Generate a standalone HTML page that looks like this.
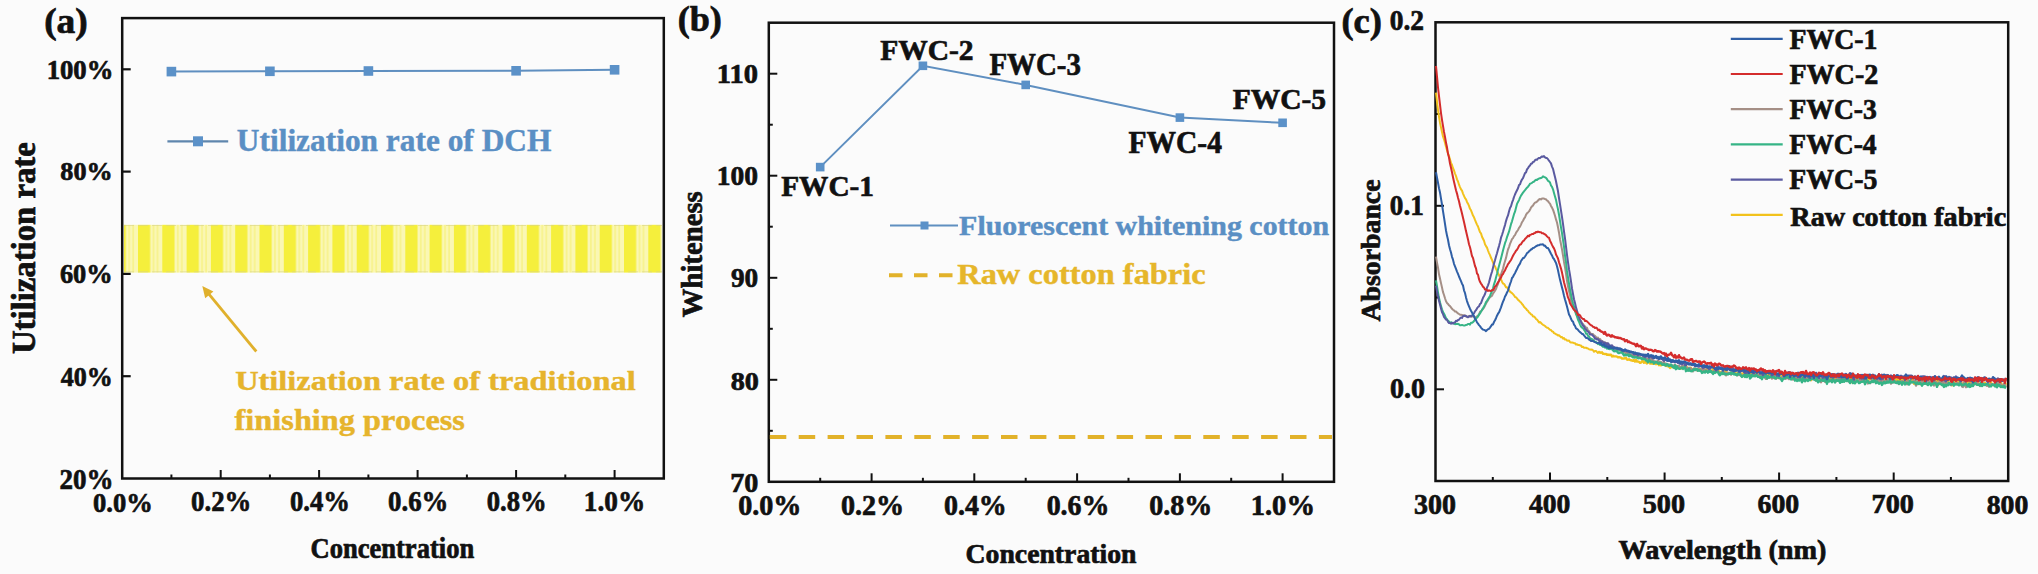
<!DOCTYPE html>
<html><head><meta charset="utf-8"><style>
html,body{margin:0;padding:0;background:#fbfbfb;width:2038px;height:574px;overflow:hidden}
svg{display:block}
</style></head><body>
<svg width="2038" height="574" viewBox="0 0 2038 574" font-family="Liberation Serif" font-weight="bold">
<rect x="0" y="0" width="2038" height="574" fill="#fbfbfb"/>
<defs><pattern id="stripes" patternUnits="userSpaceOnUse" x="138" y="0" width="24.3" height="10"><rect x="0" y="0" width="24.3" height="10" fill="#faf7b4"/><rect x="0" y="0" width="12.2" height="10" fill="#f5ef3c"/><rect x="15" y="0" width="1" height="10" fill="#f6f070"/><rect x="19" y="0" width="1" height="10" fill="#f6f070"/></pattern></defs>
<rect x="124" y="224.8" width="538" height="47.8" fill="url(#stripes)"/>
<line x1="124" y1="225.5" x2="662" y2="225.5" stroke="#d8d48a" stroke-width="1" stroke-dasharray="10 4" opacity="0.6"/>
<line x1="124" y1="271.8" x2="662" y2="271.8" stroke="#d8d48a" stroke-width="1" stroke-dasharray="10 4" opacity="0.6"/>
<rect x="122.2" y="18.1" width="541.6" height="460.4" fill="none" stroke="#111111" stroke-width="2.5"/>
<line x1="122.2" y1="376.2" x2="130.7" y2="376.2" stroke="#111111" stroke-width="2.2"/>
<line x1="122.2" y1="273.9" x2="130.7" y2="273.9" stroke="#111111" stroke-width="2.2"/>
<line x1="122.2" y1="171.6" x2="130.7" y2="171.6" stroke="#111111" stroke-width="2.2"/>
<line x1="122.2" y1="69.3" x2="130.7" y2="69.3" stroke="#111111" stroke-width="2.2"/>
<line x1="171.4" y1="478.5" x2="171.4" y2="474.5" stroke="#111111" stroke-width="2"/>
<line x1="220.7" y1="478.5" x2="220.7" y2="470.0" stroke="#111111" stroke-width="2"/>
<line x1="269.9" y1="478.5" x2="269.9" y2="474.5" stroke="#111111" stroke-width="2"/>
<line x1="319.1" y1="478.5" x2="319.1" y2="470.0" stroke="#111111" stroke-width="2"/>
<line x1="368.4" y1="478.5" x2="368.4" y2="474.5" stroke="#111111" stroke-width="2"/>
<line x1="417.6" y1="478.5" x2="417.6" y2="470.0" stroke="#111111" stroke-width="2"/>
<line x1="466.9" y1="478.5" x2="466.9" y2="474.5" stroke="#111111" stroke-width="2"/>
<line x1="516.1" y1="478.5" x2="516.1" y2="470.0" stroke="#111111" stroke-width="2"/>
<line x1="565.3" y1="478.5" x2="565.3" y2="474.5" stroke="#111111" stroke-width="2"/>
<line x1="614.6" y1="478.5" x2="614.6" y2="470.0" stroke="#111111" stroke-width="2"/>
<polyline points="171.4,71.6 269.9,71.3 368.4,71.0 516.1,70.8 614.6,69.8" fill="none" stroke="#5f8fc0" stroke-width="2"/>
<rect x="166.6" y="66.8" width="9.6" height="9.6" fill="#5b91c8"/>
<rect x="265.1" y="66.5" width="9.6" height="9.6" fill="#5b91c8"/>
<rect x="363.6" y="66.2" width="9.6" height="9.6" fill="#5b91c8"/>
<rect x="511.3" y="66.0" width="9.6" height="9.6" fill="#5b91c8"/>
<rect x="609.8" y="65.0" width="9.6" height="9.6" fill="#5b91c8"/>
<line x1="167.4" y1="141.3" x2="228.2" y2="141.3" stroke="#5f86ad" stroke-width="2.2"/>
<rect x="193" y="136.3" width="10" height="10" fill="#5b91c8"/>
<line x1="256.3" y1="351.5" x2="207.5" y2="292.3" stroke="#e0b02c" stroke-width="2.8"/>
<polygon points="202.3,286 205.2,298.2 213.4,291.5" fill="#e0b02c"/>
<rect x="768.8" y="22.7" width="565.2" height="459.1" fill="none" stroke="#111111" stroke-width="2.5"/>
<line x1="768.8" y1="430.8" x2="772.8" y2="430.8" stroke="#111111" stroke-width="2"/>
<line x1="768.8" y1="379.8" x2="777.3" y2="379.8" stroke="#111111" stroke-width="2"/>
<line x1="768.8" y1="328.8" x2="772.8" y2="328.8" stroke="#111111" stroke-width="2"/>
<line x1="768.8" y1="277.8" x2="777.3" y2="277.8" stroke="#111111" stroke-width="2"/>
<line x1="768.8" y1="226.7" x2="772.8" y2="226.7" stroke="#111111" stroke-width="2"/>
<line x1="768.8" y1="175.7" x2="777.3" y2="175.7" stroke="#111111" stroke-width="2"/>
<line x1="768.8" y1="124.7" x2="772.8" y2="124.7" stroke="#111111" stroke-width="2"/>
<line x1="768.8" y1="73.7" x2="777.3" y2="73.7" stroke="#111111" stroke-width="2"/>
<line x1="820.2" y1="481.8" x2="820.2" y2="477.8" stroke="#111111" stroke-width="2"/>
<line x1="871.6" y1="481.8" x2="871.6" y2="473.3" stroke="#111111" stroke-width="2"/>
<line x1="922.9" y1="481.8" x2="922.9" y2="477.8" stroke="#111111" stroke-width="2"/>
<line x1="974.3" y1="481.8" x2="974.3" y2="473.3" stroke="#111111" stroke-width="2"/>
<line x1="1025.7" y1="481.8" x2="1025.7" y2="477.8" stroke="#111111" stroke-width="2"/>
<line x1="1077.1" y1="481.8" x2="1077.1" y2="473.3" stroke="#111111" stroke-width="2"/>
<line x1="1128.5" y1="481.8" x2="1128.5" y2="477.8" stroke="#111111" stroke-width="2"/>
<line x1="1179.9" y1="481.8" x2="1179.9" y2="473.3" stroke="#111111" stroke-width="2"/>
<line x1="1231.2" y1="481.8" x2="1231.2" y2="477.8" stroke="#111111" stroke-width="2"/>
<line x1="1282.6" y1="481.8" x2="1282.6" y2="473.3" stroke="#111111" stroke-width="2"/>
<line x1="769.8" y1="437" x2="1332.0" y2="437" stroke="#e2b22a" stroke-width="4" stroke-dasharray="16.5 12.4"/>
<polyline points="820.2,167.1 922.9,65.8 1025.7,84.9 1179.9,117.6 1282.6,122.8" fill="none" stroke="#5f8fc0" stroke-width="2"/>
<rect x="815.9" y="162.8" width="8.6" height="8.6" fill="#5b91c8"/>
<rect x="918.6" y="61.5" width="8.6" height="8.6" fill="#5b91c8"/>
<rect x="1021.4" y="80.6" width="8.6" height="8.6" fill="#5b91c8"/>
<rect x="1175.6" y="113.3" width="8.6" height="8.6" fill="#5b91c8"/>
<rect x="1278.3" y="118.5" width="8.6" height="8.6" fill="#5b91c8"/>
<line x1="890" y1="225.5" x2="958" y2="225.5" stroke="#5f8fc0" stroke-width="2"/>
<rect x="920.5" y="221.5" width="8" height="8" fill="#5b91c8"/>
<line x1="889" y1="275.2" x2="955" y2="275.2" stroke="#e2b22a" stroke-width="4" stroke-dasharray="13.5 11.5"/>
<rect x="1435.5" y="22.3" width="572.7" height="458.7" fill="none" stroke="#111111" stroke-width="2.5"/>
<line x1="1435.5" y1="389.3" x2="1444.0" y2="389.3" stroke="#111111" stroke-width="2"/>
<line x1="1435.5" y1="297.5" x2="1439.5" y2="297.5" stroke="#111111" stroke-width="2"/>
<line x1="1435.5" y1="205.8" x2="1444.0" y2="205.8" stroke="#111111" stroke-width="2"/>
<line x1="1435.5" y1="114.0" x2="1439.5" y2="114.0" stroke="#111111" stroke-width="2"/>
<line x1="1492.8" y1="481.0" x2="1492.8" y2="477.0" stroke="#111111" stroke-width="2"/>
<line x1="1550.0" y1="481.0" x2="1550.0" y2="472.5" stroke="#111111" stroke-width="2"/>
<line x1="1607.3" y1="481.0" x2="1607.3" y2="477.0" stroke="#111111" stroke-width="2"/>
<line x1="1664.6" y1="481.0" x2="1664.6" y2="472.5" stroke="#111111" stroke-width="2"/>
<line x1="1721.8" y1="481.0" x2="1721.8" y2="477.0" stroke="#111111" stroke-width="2"/>
<line x1="1779.1" y1="481.0" x2="1779.1" y2="472.5" stroke="#111111" stroke-width="2"/>
<line x1="1836.4" y1="481.0" x2="1836.4" y2="477.0" stroke="#111111" stroke-width="2"/>
<line x1="1893.7" y1="481.0" x2="1893.7" y2="472.5" stroke="#111111" stroke-width="2"/>
<line x1="1950.9" y1="481.0" x2="1950.9" y2="477.0" stroke="#111111" stroke-width="2"/>
<polyline points="1436.0,92.7 1437.0,101.8 1438.0,109.8 1439.0,116.7 1440.0,122.7 1441.0,127.4 1442.0,132.1 1443.0,136.4 1444.0,139.3 1445.0,142.8 1446.0,146.8 1447.0,150.1 1448.0,153.3 1449.0,156.1 1450.0,159.6 1451.0,162.9 1452.0,165.0 1453.0,168.2 1454.0,170.5 1455.0,173.5 1456.0,176.0 1457.0,179.4 1458.0,181.5 1459.0,184.7 1460.0,187.1 1461.0,189.3 1462.0,190.7 1463.0,193.6 1464.0,195.9 1465.0,198.1 1466.0,199.4 1467.0,201.9 1468.0,203.7 1469.0,205.9 1470.0,208.8 1471.0,210.3 1472.0,212.9 1473.0,215.6 1474.0,217.3 1475.0,219.9 1476.0,222.3 1477.0,224.6 1478.0,226.5 1479.0,229.3 1480.0,232.2 1481.0,233.4 1482.0,236.7 1483.0,238.8 1484.0,240.8 1485.0,244.2 1486.0,246.1 1487.0,247.6 1488.0,250.5 1489.0,253.1 1490.0,255.1 1491.0,257.8 1492.0,259.9 1493.0,262.5 1494.0,265.1 1495.0,266.4 1496.0,268.9 1497.0,270.9 1498.0,273.3 1499.0,275.0 1500.0,277.3 1501.0,279.5 1502.0,281.7 1503.0,283.5 1504.0,283.9 1505.0,285.4 1506.0,287.2 1507.0,287.2 1508.0,288.9 1509.0,290.1 1510.0,291.6 1511.0,292.4 1512.0,293.1 1513.0,294.2 1514.0,295.3 1515.0,297.0 1516.0,297.3 1517.0,298.4 1518.0,299.8 1519.0,300.6 1520.0,301.7 1521.0,302.5 1522.0,304.0 1523.0,305.0 1524.0,306.8 1525.0,307.8 1526.0,308.7 1527.0,310.1 1528.0,310.8 1529.0,312.5 1530.0,313.1 1531.0,314.4 1532.0,314.7 1533.0,316.4 1534.0,316.5 1535.0,317.4 1536.0,319.0 1537.0,319.6 1538.0,320.9 1539.0,322.5 1540.0,322.1 1541.0,322.9 1542.0,324.0 1543.0,324.8 1544.0,325.3 1545.0,326.0 1546.0,327.0 1547.0,327.7 1548.0,327.8 1549.0,328.9 1550.0,329.7 1551.0,330.0 1552.0,331.3 1553.0,331.6 1554.0,333.1 1555.0,333.5 1556.0,334.2 1557.0,334.6 1558.0,335.4 1559.0,335.3 1560.0,336.2 1561.0,337.3 1562.0,336.9 1563.0,338.6 1564.0,338.0 1565.0,339.6 1566.0,339.4 1567.0,340.5 1568.0,340.7 1569.0,340.4 1570.0,342.1 1571.0,342.6 1572.0,342.4 1573.0,342.7 1574.0,343.2 1575.0,343.2 1576.0,344.6 1577.0,344.2 1578.0,344.9 1579.0,344.9 1580.0,345.4 1581.0,345.5 1582.0,347.1 1583.0,346.8 1584.0,347.7 1585.0,347.7 1586.0,347.7 1587.0,348.3 1588.0,348.5 1589.0,349.2 1590.0,349.4 1591.0,349.7 1592.0,349.5 1593.0,350.2 1594.0,351.8 1595.0,350.9 1596.0,351.0 1597.0,352.0 1598.0,352.9 1599.0,351.7 1600.0,352.6" fill="none" stroke="#f2c21c" stroke-width="2" stroke-linejoin="round"/>
<polyline points="1599.0,351.7 1600.0,352.6 1601.0,352.7 1602.0,352.3 1603.0,353.9 1604.0,353.8 1605.0,354.1 1606.0,353.9 1607.0,354.8 1608.0,354.5 1609.0,355.0 1610.0,354.7 1611.0,354.8 1612.0,356.5 1613.0,355.7 1614.0,356.4 1615.0,356.4 1616.0,356.4 1617.0,356.6 1618.0,357.4 1619.0,357.1 1620.0,357.4 1621.0,357.7 1622.0,358.6 1623.0,358.5 1624.0,358.6 1625.0,358.2 1626.0,357.9 1627.0,359.6 1628.0,359.8 1629.0,359.3 1630.0,359.9 1631.0,360.3 1632.0,360.5 1633.0,360.8 1634.0,360.1 1635.0,361.6 1636.0,360.0 1637.0,361.5 1638.0,361.5 1639.0,361.9 1640.0,362.8 1641.0,362.7 1642.0,361.2 1643.0,361.0 1644.0,362.8 1645.0,361.8 1646.0,362.7 1647.0,363.4 1648.0,361.9 1649.0,361.7 1650.0,363.5 1651.0,363.6 1652.0,363.5 1653.0,363.9 1654.0,363.4 1655.0,363.1 1656.0,364.2 1657.0,363.8 1658.0,363.5 1659.0,365.2 1660.0,364.9 1661.0,365.4 1662.0,364.6 1663.0,364.9 1664.0,364.8 1665.0,365.0 1666.0,366.0 1667.0,365.4 1668.0,366.4 1669.0,366.5 1670.0,367.9 1671.0,365.4 1672.0,367.3 1673.0,366.7 1674.0,366.9 1675.0,365.9 1676.0,366.8 1677.0,367.8 1678.0,367.3 1679.0,367.6 1680.0,367.4 1681.0,368.6 1682.0,367.8 1683.0,366.2 1684.0,367.5 1685.0,366.6 1686.0,365.7 1687.0,368.0 1688.0,369.6 1689.0,368.6 1690.0,367.8 1691.0,368.0 1692.0,369.9 1693.0,369.2 1694.0,369.2 1695.0,369.2 1696.0,369.4 1697.0,370.1 1698.0,370.0 1699.0,369.8 1700.0,368.8 1701.0,370.2 1702.0,369.3 1703.0,370.9 1704.0,369.0 1705.0,370.0 1706.0,370.2 1707.0,369.2 1708.0,371.9 1709.0,371.8 1710.0,370.2 1711.0,371.4 1712.0,371.1 1713.0,368.5 1714.0,371.2 1715.0,371.0 1716.0,371.2 1717.0,370.3 1718.0,371.1 1719.0,371.2 1720.0,372.6 1721.0,371.9 1722.0,371.6 1723.0,373.1 1724.0,371.3 1725.0,371.5 1726.0,370.3 1727.0,373.5 1728.0,373.1 1729.0,373.1 1730.0,372.9 1731.0,372.5 1732.0,372.7 1733.0,372.3 1734.0,372.4 1735.0,372.8 1736.0,374.3 1737.0,373.4 1738.0,372.9 1739.0,372.5 1740.0,372.5 1741.0,374.8 1742.0,373.8 1743.0,373.4 1744.0,373.1 1745.0,372.4 1746.0,373.5 1747.0,374.5 1748.0,373.3 1749.0,373.6 1750.0,373.6 1751.0,374.0 1752.0,372.4 1753.0,373.8 1754.0,373.3 1755.0,375.1 1756.0,373.5 1757.0,375.0 1758.0,376.0 1759.0,374.2 1760.0,374.0 1761.0,374.8 1762.0,374.7 1763.0,373.7 1764.0,375.3 1765.0,377.0 1766.0,374.7 1767.0,374.8 1768.0,374.0 1769.0,375.5 1770.0,373.9 1771.0,374.1 1772.0,376.8 1773.0,374.5 1774.0,376.7 1775.0,377.2 1776.0,375.9 1777.0,376.3 1778.0,377.9 1779.0,375.6 1780.0,375.2 1781.0,374.4 1782.0,376.0 1783.0,377.7 1784.0,377.2 1785.0,375.1 1786.0,375.3 1787.0,375.7 1788.0,376.7 1789.0,376.2 1790.0,376.7 1791.0,376.9 1792.0,376.2 1793.0,376.6 1794.0,376.9 1795.0,376.6 1796.0,377.4 1797.0,379.0 1798.0,377.6 1799.0,377.0 1800.0,375.0 1801.0,377.5 1802.0,374.8 1803.0,375.5 1804.0,378.2 1805.0,378.1 1806.0,377.1 1807.0,375.3 1808.0,377.0 1809.0,376.6 1810.0,378.3 1811.0,380.3 1812.0,377.9 1813.0,376.7 1814.0,376.3 1815.0,377.7 1816.0,377.6 1817.0,376.4 1818.0,378.0 1819.0,376.5 1820.0,379.3 1821.0,379.3 1822.0,379.3 1823.0,377.5 1824.0,378.7 1825.0,378.0 1826.0,377.7 1827.0,377.8 1828.0,376.7 1829.0,376.6 1830.0,379.3 1831.0,378.2 1832.0,378.7 1833.0,379.7 1834.0,376.5 1835.0,377.6 1836.0,378.8 1837.0,379.1 1838.0,378.2 1839.0,380.0 1840.0,379.0 1841.0,377.4 1842.0,377.7 1843.0,379.9 1844.0,379.5 1845.0,376.7 1846.0,380.6 1847.0,379.8 1848.0,380.7 1849.0,378.7 1850.0,378.8 1851.0,377.8 1852.0,382.3 1853.0,379.1 1854.0,381.2 1855.0,378.6 1856.0,379.6 1857.0,377.4 1858.0,379.0 1859.0,380.7 1860.0,378.0 1861.0,380.9 1862.0,380.0 1863.0,378.4 1864.0,379.1 1865.0,379.2 1866.0,379.7 1867.0,379.1 1868.0,378.8 1869.0,379.5 1870.0,378.7 1871.0,378.4 1872.0,379.9 1873.0,381.1 1874.0,378.2 1875.0,380.1 1876.0,379.3 1877.0,379.0 1878.0,381.2 1879.0,379.6 1880.0,382.1 1881.0,379.4 1882.0,380.8 1883.0,380.1 1884.0,379.5 1885.0,381.1 1886.0,380.3 1887.0,381.2 1888.0,380.5 1889.0,379.3 1890.0,380.5 1891.0,380.7 1892.0,381.8 1893.0,379.6 1894.0,380.7 1895.0,378.7 1896.0,381.6 1897.0,379.6 1898.0,378.8 1899.0,380.9 1900.0,382.3 1901.0,379.2 1902.0,379.8 1903.0,380.2 1904.0,379.8 1905.0,381.6 1906.0,380.3 1907.0,380.4 1908.0,382.0 1909.0,380.4 1910.0,381.9 1911.0,380.3 1912.0,380.0 1913.0,379.3 1914.0,383.8 1915.0,381.2 1916.0,381.9 1917.0,381.6 1918.0,381.9 1919.0,381.8 1920.0,384.1 1921.0,380.6 1922.0,380.0 1923.0,380.7 1924.0,380.3 1925.0,382.9 1926.0,383.0 1927.0,380.9 1928.0,380.4 1929.0,381.7 1930.0,383.8 1931.0,378.8 1932.0,382.9 1933.0,381.0 1934.0,383.6 1935.0,381.1 1936.0,382.0 1937.0,380.6 1938.0,381.3 1939.0,384.2 1940.0,383.5 1941.0,382.1 1942.0,381.6 1943.0,380.4 1944.0,382.2 1945.0,382.7 1946.0,382.7 1947.0,382.7 1948.0,381.5 1949.0,382.8 1950.0,382.9 1951.0,384.5 1952.0,385.2 1953.0,382.9 1954.0,382.1 1955.0,383.0 1956.0,382.4 1957.0,382.3 1958.0,383.1 1959.0,382.0 1960.0,384.0 1961.0,383.2 1962.0,383.7 1963.0,383.2 1964.0,382.6 1965.0,382.3 1966.0,383.2 1967.0,382.9 1968.0,383.9 1969.0,383.6 1970.0,382.0 1971.0,383.8 1972.0,382.1 1973.0,383.0 1974.0,383.5 1975.0,381.4 1976.0,384.0 1977.0,384.1 1978.0,383.8 1979.0,383.5 1980.0,383.6 1981.0,382.9 1982.0,383.8 1983.0,383.5 1984.0,384.3 1985.0,382.8 1986.0,384.5 1987.0,384.5 1988.0,384.2 1989.0,383.8 1990.0,385.1 1991.0,382.5 1992.0,385.0 1993.0,384.8 1994.0,384.9 1995.0,385.1 1996.0,383.8 1997.0,384.4 1998.0,385.5 1999.0,385.3 2000.0,385.0 2001.0,383.0 2002.0,385.5 2003.0,386.3 2004.0,386.1 2005.0,385.2 2006.0,383.1" fill="none" stroke="#f2c21c" stroke-width="2.4" stroke-linejoin="round"/>
<polyline points="1436.0,256.7 1437.0,262.6 1438.0,267.6 1439.0,274.3 1440.0,278.5 1441.0,283.1 1442.0,287.5 1443.0,292.1 1444.0,295.0 1445.0,298.3 1446.0,301.3 1447.0,303.0 1448.0,303.9 1449.0,305.3 1450.0,306.1 1451.0,307.4 1452.0,308.8 1453.0,309.7 1454.0,310.4 1455.0,311.5 1456.0,311.5 1457.0,312.5 1458.0,313.4 1459.0,314.0 1460.0,314.7 1461.0,314.8 1462.0,314.9 1463.0,315.5 1464.0,315.3 1465.0,315.3 1466.0,316.5 1467.0,316.4 1468.0,316.7 1469.0,316.0 1470.0,316.6 1471.0,316.6 1472.0,316.6 1473.0,316.0 1474.0,316.8 1475.0,317.4 1476.0,317.1 1477.0,316.3 1478.0,315.7 1479.0,314.7 1480.0,311.8 1481.0,311.4 1482.0,310.2 1483.0,308.8 1484.0,307.6 1485.0,305.6 1486.0,303.5 1487.0,301.7 1488.0,300.3 1489.0,298.4 1490.0,297.3 1491.0,296.5 1492.0,295.7 1493.0,293.6 1494.0,292.2 1495.0,290.6 1496.0,289.0 1497.0,286.1 1498.0,284.1 1499.0,280.3 1500.0,277.6 1501.0,274.5 1502.0,271.7 1503.0,268.7 1504.0,264.5 1505.0,261.2 1506.0,257.9 1507.0,253.6 1508.0,249.5 1509.0,247.1 1510.0,243.9 1511.0,241.6 1512.0,239.2 1513.0,238.1 1514.0,236.1 1515.0,235.1 1516.0,232.9 1517.0,231.3 1518.0,230.0 1519.0,227.9 1520.0,226.6 1521.0,224.6 1522.0,222.2 1523.0,220.7 1524.0,218.7 1525.0,217.3 1526.0,214.9 1527.0,213.3 1528.0,212.4 1529.0,211.4 1530.0,209.8 1531.0,207.6 1532.0,206.3 1533.0,205.6 1534.0,203.8 1535.0,202.6 1536.0,202.3 1537.0,201.7 1538.0,200.5 1539.0,199.5 1540.0,199.0 1541.0,199.4 1542.0,198.5 1543.0,198.5 1544.0,198.6 1545.0,199.0 1546.0,199.3 1547.0,200.5 1548.0,201.1 1549.0,202.6 1550.0,203.6 1551.0,206.0 1552.0,207.6 1553.0,209.7 1554.0,212.6 1555.0,215.7 1556.0,219.4 1557.0,222.5 1558.0,227.3 1559.0,232.7 1560.0,239.2 1561.0,244.2 1562.0,249.4 1563.0,255.3 1564.0,261.7 1565.0,267.2 1566.0,273.7 1567.0,280.8 1568.0,286.2 1569.0,291.1 1570.0,295.0 1571.0,300.2 1572.0,304.0 1573.0,306.8 1574.0,309.7 1575.0,310.8 1576.0,314.0 1577.0,315.5 1578.0,317.5 1579.0,319.2 1580.0,320.2 1581.0,321.0 1582.0,323.2 1583.0,324.0 1584.0,325.3 1585.0,326.4 1586.0,327.6 1587.0,327.8 1588.0,330.6 1589.0,331.2 1590.0,332.6 1591.0,334.0 1592.0,334.0 1593.0,334.0 1594.0,335.3 1595.0,335.9 1596.0,337.0 1597.0,338.0 1598.0,337.6 1599.0,339.5 1600.0,339.2" fill="none" stroke="#a58f86" stroke-width="2" stroke-linejoin="round"/>
<polyline points="1599.0,339.5 1600.0,339.2 1601.0,340.8 1602.0,341.2 1603.0,341.7 1604.0,342.4 1605.0,342.7 1606.0,343.3 1607.0,343.2 1608.0,344.7 1609.0,346.2 1610.0,346.8 1611.0,347.0 1612.0,347.1 1613.0,346.8 1614.0,348.5 1615.0,348.1 1616.0,348.5 1617.0,348.8 1618.0,349.5 1619.0,349.6 1620.0,350.2 1621.0,350.0 1622.0,350.9 1623.0,352.8 1624.0,351.8 1625.0,352.1 1626.0,353.0 1627.0,353.4 1628.0,352.7 1629.0,353.6 1630.0,354.7 1631.0,354.6 1632.0,354.9 1633.0,356.1 1634.0,355.0 1635.0,355.8 1636.0,355.8 1637.0,357.4 1638.0,355.5 1639.0,356.6 1640.0,357.0 1641.0,358.1 1642.0,358.3 1643.0,359.1 1644.0,357.4 1645.0,359.3 1646.0,358.8 1647.0,358.9 1648.0,359.9 1649.0,359.2 1650.0,358.6 1651.0,360.1 1652.0,359.5 1653.0,360.4 1654.0,361.3 1655.0,361.5 1656.0,362.7 1657.0,361.7 1658.0,360.9 1659.0,361.7 1660.0,361.9 1661.0,361.9 1662.0,363.3 1663.0,362.7 1664.0,362.0 1665.0,364.2 1666.0,363.8 1667.0,364.4 1668.0,364.4 1669.0,365.0 1670.0,364.8 1671.0,365.9 1672.0,365.5 1673.0,365.7 1674.0,365.9 1675.0,364.7 1676.0,365.9 1677.0,366.0 1678.0,366.6 1679.0,365.6 1680.0,368.1 1681.0,367.1 1682.0,366.2 1683.0,366.0 1684.0,367.3 1685.0,367.7 1686.0,367.3 1687.0,368.2 1688.0,367.7 1689.0,368.9 1690.0,368.0 1691.0,368.7 1692.0,369.7 1693.0,371.2 1694.0,368.4 1695.0,368.9 1696.0,368.8 1697.0,370.3 1698.0,368.8 1699.0,369.5 1700.0,370.0 1701.0,369.3 1702.0,369.4 1703.0,370.0 1704.0,368.7 1705.0,369.4 1706.0,370.4 1707.0,371.0 1708.0,370.8 1709.0,369.5 1710.0,370.8 1711.0,372.0 1712.0,371.9 1713.0,371.5 1714.0,370.9 1715.0,372.3 1716.0,371.4 1717.0,370.9 1718.0,371.4 1719.0,373.5 1720.0,372.5 1721.0,373.5 1722.0,372.1 1723.0,373.5 1724.0,372.2 1725.0,372.7 1726.0,375.3 1727.0,373.8 1728.0,372.7 1729.0,373.2 1730.0,373.7 1731.0,374.6 1732.0,373.1 1733.0,372.0 1734.0,373.5 1735.0,373.9 1736.0,374.0 1737.0,375.3 1738.0,374.4 1739.0,375.0 1740.0,373.2 1741.0,375.3 1742.0,376.6 1743.0,375.3 1744.0,374.9 1745.0,374.9 1746.0,376.6 1747.0,374.0 1748.0,374.9 1749.0,375.6 1750.0,375.9 1751.0,374.8 1752.0,375.7 1753.0,375.2 1754.0,375.6 1755.0,375.5 1756.0,374.5 1757.0,375.7 1758.0,376.7 1759.0,374.9 1760.0,375.7 1761.0,376.8 1762.0,375.0 1763.0,376.4 1764.0,375.2 1765.0,377.6 1766.0,378.9 1767.0,378.7 1768.0,376.3 1769.0,377.4 1770.0,376.8 1771.0,376.9 1772.0,378.5 1773.0,375.5 1774.0,378.1 1775.0,377.0 1776.0,378.7 1777.0,377.4 1778.0,376.5 1779.0,377.6 1780.0,378.2 1781.0,377.5 1782.0,378.0 1783.0,377.0 1784.0,375.2 1785.0,378.7 1786.0,378.5 1787.0,378.0 1788.0,377.9 1789.0,379.1 1790.0,377.5 1791.0,377.2 1792.0,377.9 1793.0,379.5 1794.0,376.6 1795.0,379.6 1796.0,377.6 1797.0,377.1 1798.0,379.9 1799.0,378.3 1800.0,377.0 1801.0,378.1 1802.0,379.7 1803.0,380.1 1804.0,378.2 1805.0,379.2 1806.0,379.6 1807.0,378.1 1808.0,379.3 1809.0,378.9 1810.0,378.3 1811.0,378.4 1812.0,379.1 1813.0,379.1 1814.0,378.5 1815.0,378.7 1816.0,380.6 1817.0,379.5 1818.0,380.4 1819.0,380.8 1820.0,380.1 1821.0,382.2 1822.0,378.5 1823.0,380.5 1824.0,379.2 1825.0,381.8 1826.0,381.7 1827.0,377.3 1828.0,378.5 1829.0,380.5 1830.0,380.7 1831.0,380.7 1832.0,379.8 1833.0,380.4 1834.0,380.7 1835.0,379.9 1836.0,381.2 1837.0,377.3 1838.0,380.8 1839.0,378.8 1840.0,381.3 1841.0,379.9 1842.0,379.1 1843.0,380.7 1844.0,379.2 1845.0,379.2 1846.0,378.4 1847.0,380.3 1848.0,381.0 1849.0,381.6 1850.0,380.3 1851.0,381.7 1852.0,380.5 1853.0,380.4 1854.0,381.3 1855.0,381.9 1856.0,380.2 1857.0,380.4 1858.0,380.5 1859.0,380.8 1860.0,379.7 1861.0,382.0 1862.0,380.3 1863.0,381.4 1864.0,379.9 1865.0,381.3 1866.0,381.4 1867.0,380.5 1868.0,383.4 1869.0,381.5 1870.0,383.2 1871.0,382.2 1872.0,380.3 1873.0,380.7 1874.0,381.7 1875.0,381.3 1876.0,381.3 1877.0,380.9 1878.0,379.1 1879.0,381.1 1880.0,378.7 1881.0,381.8 1882.0,380.5 1883.0,380.6 1884.0,381.2 1885.0,381.8 1886.0,379.8 1887.0,379.5 1888.0,380.3 1889.0,379.2 1890.0,380.5 1891.0,383.6 1892.0,380.5 1893.0,382.5 1894.0,380.2 1895.0,382.2 1896.0,381.5 1897.0,381.8 1898.0,382.6 1899.0,384.1 1900.0,382.2 1901.0,382.2 1902.0,380.9 1903.0,382.8 1904.0,381.8 1905.0,383.2 1906.0,382.2 1907.0,384.3 1908.0,379.9 1909.0,381.9 1910.0,383.4 1911.0,382.0 1912.0,381.5 1913.0,382.1 1914.0,380.8 1915.0,382.7 1916.0,385.5 1917.0,383.9 1918.0,381.3 1919.0,381.6 1920.0,382.2 1921.0,383.9 1922.0,381.8 1923.0,381.9 1924.0,383.9 1925.0,383.9 1926.0,382.4 1927.0,381.6 1928.0,381.1 1929.0,382.1 1930.0,380.3 1931.0,383.9 1932.0,382.3 1933.0,383.7 1934.0,385.4 1935.0,384.6 1936.0,381.8 1937.0,384.3 1938.0,384.7 1939.0,382.4 1940.0,382.2 1941.0,383.2 1942.0,381.5 1943.0,385.2 1944.0,380.6 1945.0,382.2 1946.0,383.2 1947.0,383.3 1948.0,383.8 1949.0,384.0 1950.0,383.4 1951.0,385.1 1952.0,381.2 1953.0,383.8 1954.0,383.0 1955.0,384.0 1956.0,384.1 1957.0,382.8 1958.0,383.2 1959.0,384.9 1960.0,384.4 1961.0,383.2 1962.0,386.5 1963.0,386.9 1964.0,382.4 1965.0,384.5 1966.0,387.2 1967.0,385.2 1968.0,384.5 1969.0,384.1 1970.0,383.7 1971.0,384.1 1972.0,383.7 1973.0,385.3 1974.0,384.0 1975.0,384.0 1976.0,383.1 1977.0,384.5 1978.0,383.5 1979.0,384.4 1980.0,385.9 1981.0,385.1 1982.0,385.3 1983.0,385.2 1984.0,384.9 1985.0,384.7 1986.0,384.5 1987.0,385.8 1988.0,383.6 1989.0,386.6 1990.0,385.0 1991.0,384.1 1992.0,384.5 1993.0,384.3 1994.0,385.3 1995.0,384.3 1996.0,386.5 1997.0,384.3 1998.0,382.5 1999.0,384.4 2000.0,382.9 2001.0,385.3 2002.0,386.6 2003.0,386.2 2004.0,383.8 2005.0,384.6 2006.0,387.6" fill="none" stroke="#a58f86" stroke-width="2.4" stroke-linejoin="round"/>
<polyline points="1436.0,280.3 1437.0,286.2 1438.0,292.3 1439.0,298.1 1440.0,302.3 1441.0,305.9 1442.0,309.3 1443.0,312.0 1444.0,313.8 1445.0,315.8 1446.0,318.1 1447.0,319.2 1448.0,320.7 1449.0,321.6 1450.0,323.0 1451.0,322.2 1452.0,322.8 1453.0,323.1 1454.0,323.7 1455.0,324.2 1456.0,323.8 1457.0,323.9 1458.0,323.8 1459.0,324.4 1460.0,325.2 1461.0,325.2 1462.0,324.9 1463.0,325.2 1464.0,325.4 1465.0,325.5 1466.0,324.9 1467.0,324.8 1468.0,323.9 1469.0,323.9 1470.0,324.6 1471.0,322.7 1472.0,322.8 1473.0,322.2 1474.0,321.0 1475.0,319.8 1476.0,318.9 1477.0,317.7 1478.0,316.5 1479.0,314.5 1480.0,313.6 1481.0,311.6 1482.0,309.9 1483.0,308.3 1484.0,306.5 1485.0,304.6 1486.0,302.1 1487.0,300.8 1488.0,299.2 1489.0,297.6 1490.0,295.9 1491.0,293.4 1492.0,291.0 1493.0,288.5 1494.0,284.3 1495.0,281.4 1496.0,277.4 1497.0,273.9 1498.0,269.6 1499.0,266.0 1500.0,262.3 1501.0,258.5 1502.0,254.6 1503.0,250.4 1504.0,246.8 1505.0,243.2 1506.0,240.5 1507.0,237.1 1508.0,234.3 1509.0,231.7 1510.0,227.9 1511.0,224.2 1512.0,221.3 1513.0,217.7 1514.0,214.2 1515.0,211.7 1516.0,207.8 1517.0,203.9 1518.0,202.0 1519.0,200.1 1520.0,197.6 1521.0,195.6 1522.0,194.1 1523.0,192.7 1524.0,191.4 1525.0,190.2 1526.0,188.9 1527.0,187.7 1528.0,186.7 1529.0,185.4 1530.0,183.7 1531.0,183.4 1532.0,182.9 1533.0,181.9 1534.0,181.7 1535.0,180.5 1536.0,179.7 1537.0,180.0 1538.0,179.1 1539.0,178.5 1540.0,178.3 1541.0,178.1 1542.0,177.5 1543.0,176.3 1544.0,176.9 1545.0,177.3 1546.0,177.8 1547.0,179.2 1548.0,180.8 1549.0,181.4 1550.0,182.5 1551.0,185.5 1552.0,186.9 1553.0,189.3 1554.0,193.1 1555.0,196.6 1556.0,199.9 1557.0,204.9 1558.0,209.4 1559.0,214.7 1560.0,221.0 1561.0,227.4 1562.0,233.1 1563.0,239.8 1564.0,246.6 1565.0,255.5 1566.0,262.1 1567.0,270.9 1568.0,277.4 1569.0,283.4 1570.0,289.3 1571.0,294.4 1572.0,299.3 1573.0,303.2 1574.0,306.6 1575.0,310.0 1576.0,313.6 1577.0,316.5 1578.0,319.7 1579.0,321.7 1580.0,324.3 1581.0,326.5 1582.0,327.6 1583.0,328.3 1584.0,329.8 1585.0,331.0 1586.0,333.7 1587.0,333.7 1588.0,335.9 1589.0,336.6 1590.0,338.2 1591.0,338.8 1592.0,339.1 1593.0,339.9 1594.0,340.8 1595.0,341.6 1596.0,341.9 1597.0,342.8 1598.0,344.2 1599.0,343.1 1600.0,344.7" fill="none" stroke="#36b486" stroke-width="2" stroke-linejoin="round"/>
<polyline points="1599.0,343.1 1600.0,344.7 1601.0,344.6 1602.0,345.6 1603.0,346.5 1604.0,346.5 1605.0,347.4 1606.0,346.5 1607.0,348.4 1608.0,347.8 1609.0,348.9 1610.0,349.1 1611.0,347.9 1612.0,349.2 1613.0,350.2 1614.0,351.3 1615.0,350.9 1616.0,351.2 1617.0,350.6 1618.0,352.6 1619.0,353.1 1620.0,352.4 1621.0,352.6 1622.0,352.1 1623.0,353.9 1624.0,355.4 1625.0,354.5 1626.0,355.2 1627.0,355.1 1628.0,354.5 1629.0,356.2 1630.0,355.0 1631.0,355.9 1632.0,356.5 1633.0,357.2 1634.0,357.3 1635.0,357.5 1636.0,357.1 1637.0,357.1 1638.0,358.2 1639.0,358.0 1640.0,357.9 1641.0,358.2 1642.0,359.0 1643.0,358.4 1644.0,359.0 1645.0,359.0 1646.0,360.5 1647.0,360.9 1648.0,362.3 1649.0,360.1 1650.0,360.9 1651.0,362.2 1652.0,361.7 1653.0,361.9 1654.0,363.5 1655.0,362.3 1656.0,362.0 1657.0,362.1 1658.0,363.5 1659.0,363.7 1660.0,362.7 1661.0,363.2 1662.0,364.6 1663.0,364.8 1664.0,364.1 1665.0,365.3 1666.0,365.5 1667.0,363.9 1668.0,365.3 1669.0,366.0 1670.0,365.5 1671.0,364.5 1672.0,366.1 1673.0,367.1 1674.0,367.9 1675.0,365.3 1676.0,369.2 1677.0,366.5 1678.0,368.3 1679.0,368.7 1680.0,368.7 1681.0,368.2 1682.0,367.4 1683.0,368.9 1684.0,368.1 1685.0,366.8 1686.0,371.2 1687.0,369.7 1688.0,370.8 1689.0,368.7 1690.0,370.8 1691.0,371.1 1692.0,371.2 1693.0,370.1 1694.0,369.2 1695.0,370.2 1696.0,368.7 1697.0,369.2 1698.0,370.8 1699.0,370.0 1700.0,370.9 1701.0,371.0 1702.0,372.9 1703.0,372.5 1704.0,371.4 1705.0,372.6 1706.0,371.0 1707.0,371.5 1708.0,372.7 1709.0,370.9 1710.0,371.9 1711.0,371.1 1712.0,372.5 1713.0,373.9 1714.0,371.9 1715.0,372.9 1716.0,372.0 1717.0,371.8 1718.0,371.9 1719.0,374.4 1720.0,375.3 1721.0,373.7 1722.0,372.7 1723.0,374.1 1724.0,373.3 1725.0,374.4 1726.0,374.0 1727.0,374.1 1728.0,374.5 1729.0,373.5 1730.0,373.8 1731.0,372.6 1732.0,373.9 1733.0,373.0 1734.0,374.4 1735.0,373.7 1736.0,374.8 1737.0,375.2 1738.0,373.5 1739.0,374.1 1740.0,374.1 1741.0,375.8 1742.0,376.9 1743.0,376.1 1744.0,375.0 1745.0,376.9 1746.0,374.0 1747.0,377.1 1748.0,375.0 1749.0,372.9 1750.0,378.5 1751.0,377.5 1752.0,374.9 1753.0,376.2 1754.0,375.9 1755.0,376.3 1756.0,374.7 1757.0,375.6 1758.0,376.9 1759.0,376.7 1760.0,377.8 1761.0,376.7 1762.0,379.2 1763.0,376.0 1764.0,377.1 1765.0,374.9 1766.0,375.6 1767.0,378.4 1768.0,376.1 1769.0,377.7 1770.0,377.2 1771.0,376.2 1772.0,377.0 1773.0,376.9 1774.0,377.0 1775.0,378.4 1776.0,378.3 1777.0,377.0 1778.0,376.7 1779.0,378.1 1780.0,377.8 1781.0,379.1 1782.0,380.9 1783.0,379.0 1784.0,378.1 1785.0,378.0 1786.0,377.3 1787.0,377.3 1788.0,377.2 1789.0,377.9 1790.0,378.0 1791.0,379.4 1792.0,378.1 1793.0,378.4 1794.0,377.3 1795.0,380.6 1796.0,379.4 1797.0,380.9 1798.0,379.8 1799.0,380.7 1800.0,378.7 1801.0,379.9 1802.0,382.3 1803.0,377.7 1804.0,380.6 1805.0,381.3 1806.0,379.8 1807.0,380.3 1808.0,380.9 1809.0,378.7 1810.0,380.0 1811.0,378.5 1812.0,378.8 1813.0,378.9 1814.0,379.5 1815.0,379.9 1816.0,380.4 1817.0,378.1 1818.0,382.3 1819.0,381.4 1820.0,380.9 1821.0,379.6 1822.0,380.0 1823.0,380.8 1824.0,380.7 1825.0,378.2 1826.0,381.2 1827.0,383.9 1828.0,378.1 1829.0,381.6 1830.0,380.9 1831.0,380.3 1832.0,382.2 1833.0,379.1 1834.0,380.8 1835.0,382.5 1836.0,380.5 1837.0,380.2 1838.0,380.9 1839.0,380.3 1840.0,382.8 1841.0,379.8 1842.0,382.0 1843.0,379.4 1844.0,381.8 1845.0,380.9 1846.0,377.9 1847.0,381.1 1848.0,379.9 1849.0,380.7 1850.0,383.1 1851.0,379.9 1852.0,380.0 1853.0,383.1 1854.0,381.5 1855.0,383.3 1856.0,381.9 1857.0,380.4 1858.0,381.5 1859.0,383.1 1860.0,382.8 1861.0,381.7 1862.0,381.8 1863.0,381.6 1864.0,381.1 1865.0,384.2 1866.0,381.9 1867.0,380.5 1868.0,381.3 1869.0,382.8 1870.0,382.8 1871.0,381.8 1872.0,381.2 1873.0,382.1 1874.0,380.1 1875.0,380.6 1876.0,383.2 1877.0,381.6 1878.0,382.7 1879.0,383.8 1880.0,383.1 1881.0,382.4 1882.0,385.0 1883.0,383.3 1884.0,382.0 1885.0,383.4 1886.0,383.0 1887.0,381.5 1888.0,382.7 1889.0,382.4 1890.0,380.2 1891.0,382.5 1892.0,382.4 1893.0,382.2 1894.0,380.8 1895.0,382.4 1896.0,382.8 1897.0,383.0 1898.0,381.5 1899.0,383.7 1900.0,381.5 1901.0,382.8 1902.0,384.7 1903.0,382.2 1904.0,382.5 1905.0,384.5 1906.0,382.7 1907.0,382.9 1908.0,383.5 1909.0,384.6 1910.0,380.6 1911.0,382.3 1912.0,382.2 1913.0,382.1 1914.0,382.4 1915.0,382.5 1916.0,383.9 1917.0,382.5 1918.0,383.7 1919.0,384.1 1920.0,382.8 1921.0,383.8 1922.0,385.7 1923.0,384.1 1924.0,383.0 1925.0,383.7 1926.0,382.7 1927.0,384.2 1928.0,385.0 1929.0,382.9 1930.0,383.7 1931.0,385.4 1932.0,383.4 1933.0,384.3 1934.0,382.8 1935.0,383.1 1936.0,383.5 1937.0,386.8 1938.0,383.7 1939.0,383.6 1940.0,383.6 1941.0,384.1 1942.0,385.1 1943.0,384.6 1944.0,386.9 1945.0,384.7 1946.0,386.2 1947.0,384.8 1948.0,385.2 1949.0,382.8 1950.0,384.4 1951.0,384.5 1952.0,384.3 1953.0,382.1 1954.0,385.7 1955.0,384.2 1956.0,384.2 1957.0,384.5 1958.0,384.5 1959.0,385.3 1960.0,383.3 1961.0,383.8 1962.0,385.2 1963.0,385.1 1964.0,384.5 1965.0,384.3 1966.0,384.0 1967.0,385.0 1968.0,386.5 1969.0,383.8 1970.0,386.9 1971.0,386.2 1972.0,384.6 1973.0,386.1 1974.0,383.5 1975.0,383.2 1976.0,383.7 1977.0,384.8 1978.0,384.9 1979.0,384.7 1980.0,385.5 1981.0,382.8 1982.0,386.0 1983.0,383.7 1984.0,384.7 1985.0,385.0 1986.0,384.1 1987.0,383.9 1988.0,384.4 1989.0,385.6 1990.0,386.3 1991.0,386.3 1992.0,384.5 1993.0,384.7 1994.0,384.6 1995.0,386.3 1996.0,383.3 1997.0,387.3 1998.0,385.2 1999.0,384.9 2000.0,386.3 2001.0,387.1 2002.0,386.3 2003.0,387.2 2004.0,386.1 2005.0,387.5 2006.0,387.5" fill="none" stroke="#36b486" stroke-width="2.4" stroke-linejoin="round"/>
<polyline points="1436.0,285.7 1437.0,291.6 1438.0,296.1 1439.0,300.8 1440.0,304.6 1441.0,308.6 1442.0,312.3 1443.0,314.1 1444.0,316.8 1445.0,318.2 1446.0,319.6 1447.0,319.9 1448.0,321.8 1449.0,323.0 1450.0,323.1 1451.0,323.7 1452.0,322.7 1453.0,323.6 1454.0,322.6 1455.0,322.6 1456.0,320.8 1457.0,321.1 1458.0,320.0 1459.0,319.8 1460.0,318.3 1461.0,317.6 1462.0,317.9 1463.0,316.1 1464.0,315.8 1465.0,315.9 1466.0,315.8 1467.0,316.9 1468.0,317.3 1469.0,316.4 1470.0,315.8 1471.0,316.4 1472.0,315.6 1473.0,314.4 1474.0,313.4 1475.0,311.3 1476.0,310.2 1477.0,308.4 1478.0,307.0 1479.0,306.4 1480.0,304.0 1481.0,303.2 1482.0,300.3 1483.0,297.8 1484.0,296.0 1485.0,294.0 1486.0,291.0 1487.0,287.6 1488.0,285.3 1489.0,282.5 1490.0,278.4 1491.0,274.7 1492.0,271.7 1493.0,267.7 1494.0,263.5 1495.0,260.2 1496.0,256.5 1497.0,253.2 1498.0,249.4 1499.0,246.1 1500.0,242.2 1501.0,237.7 1502.0,235.0 1503.0,231.8 1504.0,228.2 1505.0,225.1 1506.0,221.1 1507.0,217.8 1508.0,215.4 1509.0,211.5 1510.0,208.0 1511.0,206.3 1512.0,202.7 1513.0,200.1 1514.0,197.0 1515.0,194.5 1516.0,192.2 1517.0,190.2 1518.0,188.3 1519.0,185.1 1520.0,184.3 1521.0,181.5 1522.0,179.5 1523.0,178.1 1524.0,175.7 1525.0,173.1 1526.0,172.4 1527.0,169.4 1528.0,168.1 1529.0,166.5 1530.0,165.6 1531.0,163.8 1532.0,163.5 1533.0,161.9 1534.0,161.8 1535.0,160.2 1536.0,159.6 1537.0,159.8 1538.0,158.5 1539.0,157.9 1540.0,158.2 1541.0,157.1 1542.0,156.4 1543.0,156.8 1544.0,156.0 1545.0,157.3 1546.0,157.9 1547.0,158.1 1548.0,159.2 1549.0,160.7 1550.0,162.0 1551.0,163.4 1552.0,166.6 1553.0,168.8 1554.0,173.0 1555.0,176.9 1556.0,181.2 1557.0,186.3 1558.0,191.3 1559.0,198.0 1560.0,204.1 1561.0,210.6 1562.0,217.0 1563.0,223.8 1564.0,231.5 1565.0,238.4 1566.0,246.6 1567.0,254.8 1568.0,262.1 1569.0,269.2 1570.0,275.0 1571.0,281.3 1572.0,288.5 1573.0,294.0 1574.0,299.3 1575.0,303.0 1576.0,307.4 1577.0,310.8 1578.0,314.1 1579.0,317.0 1580.0,319.7 1581.0,321.9 1582.0,323.8 1583.0,325.7 1584.0,326.4 1585.0,328.9 1586.0,329.3 1587.0,331.0 1588.0,331.6 1589.0,332.5 1590.0,334.6 1591.0,334.4 1592.0,334.8 1593.0,335.8 1594.0,336.8 1595.0,338.8 1596.0,338.5 1597.0,339.5 1598.0,339.1 1599.0,340.4 1600.0,341.1" fill="none" stroke="#5a5aa0" stroke-width="2" stroke-linejoin="round"/>
<polyline points="1599.0,340.4 1600.0,341.1 1601.0,342.3 1602.0,341.5 1603.0,342.7 1604.0,343.0 1605.0,342.8 1606.0,343.8 1607.0,344.1 1608.0,343.4 1609.0,345.4 1610.0,345.8 1611.0,345.6 1612.0,345.5 1613.0,347.5 1614.0,347.1 1615.0,347.9 1616.0,348.5 1617.0,347.7 1618.0,348.8 1619.0,348.5 1620.0,349.0 1621.0,349.3 1622.0,349.6 1623.0,350.6 1624.0,350.3 1625.0,350.4 1626.0,350.6 1627.0,351.3 1628.0,350.8 1629.0,351.3 1630.0,351.9 1631.0,351.8 1632.0,352.4 1633.0,352.3 1634.0,354.2 1635.0,354.0 1636.0,353.7 1637.0,353.6 1638.0,355.3 1639.0,354.3 1640.0,354.3 1641.0,354.8 1642.0,355.0 1643.0,356.0 1644.0,355.2 1645.0,356.9 1646.0,355.1 1647.0,356.4 1648.0,355.4 1649.0,357.6 1650.0,356.3 1651.0,356.7 1652.0,357.6 1653.0,358.1 1654.0,356.7 1655.0,357.4 1656.0,356.9 1657.0,358.2 1658.0,358.2 1659.0,358.3 1660.0,358.3 1661.0,358.7 1662.0,358.6 1663.0,359.8 1664.0,360.7 1665.0,358.4 1666.0,359.9 1667.0,359.9 1668.0,360.8 1669.0,359.9 1670.0,360.7 1671.0,360.3 1672.0,361.8 1673.0,361.5 1674.0,361.5 1675.0,362.1 1676.0,361.9 1677.0,361.0 1678.0,362.9 1679.0,362.9 1680.0,362.7 1681.0,363.8 1682.0,364.1 1683.0,362.5 1684.0,362.9 1685.0,365.0 1686.0,365.0 1687.0,363.5 1688.0,363.3 1689.0,363.9 1690.0,364.2 1691.0,363.4 1692.0,364.9 1693.0,364.0 1694.0,364.2 1695.0,366.1 1696.0,364.9 1697.0,365.5 1698.0,366.3 1699.0,366.6 1700.0,365.7 1701.0,366.2 1702.0,365.5 1703.0,367.9 1704.0,367.1 1705.0,365.7 1706.0,366.8 1707.0,367.5 1708.0,367.4 1709.0,368.7 1710.0,368.5 1711.0,366.9 1712.0,367.4 1713.0,366.5 1714.0,368.0 1715.0,368.0 1716.0,370.4 1717.0,368.2 1718.0,366.3 1719.0,367.7 1720.0,368.5 1721.0,367.4 1722.0,367.9 1723.0,368.4 1724.0,369.2 1725.0,368.9 1726.0,368.3 1727.0,370.0 1728.0,368.8 1729.0,369.0 1730.0,368.3 1731.0,368.9 1732.0,370.4 1733.0,368.3 1734.0,369.9 1735.0,370.8 1736.0,369.8 1737.0,370.5 1738.0,369.3 1739.0,371.8 1740.0,371.7 1741.0,371.0 1742.0,369.1 1743.0,369.9 1744.0,372.0 1745.0,372.8 1746.0,371.5 1747.0,372.6 1748.0,370.8 1749.0,371.3 1750.0,371.6 1751.0,372.1 1752.0,370.2 1753.0,372.8 1754.0,373.3 1755.0,370.9 1756.0,370.7 1757.0,372.6 1758.0,371.6 1759.0,369.9 1760.0,373.3 1761.0,372.7 1762.0,372.2 1763.0,375.0 1764.0,373.0 1765.0,372.1 1766.0,373.1 1767.0,371.9 1768.0,372.3 1769.0,373.6 1770.0,372.7 1771.0,372.9 1772.0,375.2 1773.0,374.4 1774.0,374.4 1775.0,374.2 1776.0,374.2 1777.0,375.4 1778.0,373.8 1779.0,375.9 1780.0,372.9 1781.0,373.7 1782.0,372.6 1783.0,373.8 1784.0,374.8 1785.0,375.9 1786.0,373.6 1787.0,374.4 1788.0,374.0 1789.0,373.7 1790.0,373.2 1791.0,374.7 1792.0,372.7 1793.0,374.8 1794.0,374.8 1795.0,374.0 1796.0,373.7 1797.0,373.3 1798.0,377.1 1799.0,373.4 1800.0,376.8 1801.0,375.7 1802.0,374.6 1803.0,373.8 1804.0,376.4 1805.0,377.2 1806.0,374.1 1807.0,374.9 1808.0,376.6 1809.0,375.7 1810.0,377.8 1811.0,374.7 1812.0,376.1 1813.0,374.0 1814.0,378.0 1815.0,374.7 1816.0,372.9 1817.0,375.4 1818.0,375.5 1819.0,378.0 1820.0,375.3 1821.0,375.7 1822.0,376.5 1823.0,377.7 1824.0,375.7 1825.0,377.1 1826.0,376.5 1827.0,375.5 1828.0,376.0 1829.0,376.0 1830.0,374.9 1831.0,377.4 1832.0,374.4 1833.0,377.4 1834.0,377.2 1835.0,376.0 1836.0,375.2 1837.0,375.9 1838.0,376.7 1839.0,377.1 1840.0,376.6 1841.0,377.4 1842.0,375.6 1843.0,376.6 1844.0,374.4 1845.0,377.2 1846.0,376.5 1847.0,375.9 1848.0,377.8 1849.0,377.2 1850.0,373.1 1851.0,376.5 1852.0,374.7 1853.0,377.8 1854.0,379.5 1855.0,375.9 1856.0,376.7 1857.0,376.3 1858.0,377.0 1859.0,377.4 1860.0,378.2 1861.0,375.5 1862.0,378.6 1863.0,375.6 1864.0,377.1 1865.0,378.1 1866.0,377.6 1867.0,375.7 1868.0,376.0 1869.0,376.3 1870.0,376.8 1871.0,378.2 1872.0,375.3 1873.0,377.5 1874.0,377.7 1875.0,377.6 1876.0,377.5 1877.0,378.8 1878.0,377.6 1879.0,378.1 1880.0,377.7 1881.0,379.2 1882.0,374.8 1883.0,378.7 1884.0,376.8 1885.0,376.8 1886.0,376.0 1887.0,375.0 1888.0,376.8 1889.0,376.4 1890.0,377.9 1891.0,375.5 1892.0,379.0 1893.0,377.7 1894.0,377.1 1895.0,376.5 1896.0,376.5 1897.0,376.1 1898.0,376.8 1899.0,377.5 1900.0,377.3 1901.0,375.8 1902.0,377.2 1903.0,376.5 1904.0,377.8 1905.0,379.9 1906.0,378.4 1907.0,377.3 1908.0,375.7 1909.0,376.0 1910.0,375.7 1911.0,378.6 1912.0,376.9 1913.0,377.9 1914.0,377.1 1915.0,378.0 1916.0,379.6 1917.0,377.1 1918.0,377.5 1919.0,377.0 1920.0,379.0 1921.0,376.8 1922.0,376.7 1923.0,376.4 1924.0,376.4 1925.0,378.7 1926.0,381.2 1927.0,377.0 1928.0,379.3 1929.0,378.5 1930.0,376.9 1931.0,377.9 1932.0,378.0 1933.0,377.5 1934.0,380.6 1935.0,376.1 1936.0,378.8 1937.0,378.8 1938.0,377.7 1939.0,378.6 1940.0,379.5 1941.0,378.7 1942.0,379.0 1943.0,379.4 1944.0,376.1 1945.0,380.4 1946.0,381.3 1947.0,379.8 1948.0,379.9 1949.0,377.0 1950.0,378.6 1951.0,377.7 1952.0,378.0 1953.0,379.9 1954.0,377.8 1955.0,378.7 1956.0,376.5 1957.0,378.7 1958.0,379.0 1959.0,378.1 1960.0,378.1 1961.0,381.2 1962.0,377.5 1963.0,377.7 1964.0,378.1 1965.0,380.5 1966.0,381.6 1967.0,379.5 1968.0,378.3 1969.0,378.6 1970.0,380.4 1971.0,378.1 1972.0,381.0 1973.0,380.9 1974.0,379.3 1975.0,380.1 1976.0,380.2 1977.0,381.2 1978.0,378.1 1979.0,380.8 1980.0,379.0 1981.0,378.5 1982.0,379.6 1983.0,379.2 1984.0,378.3 1985.0,377.6 1986.0,378.4 1987.0,381.3 1988.0,381.9 1989.0,380.4 1990.0,381.1 1991.0,379.0 1992.0,379.6 1993.0,380.0 1994.0,378.4 1995.0,378.6 1996.0,379.9 1997.0,379.4 1998.0,378.5 1999.0,380.3 2000.0,379.5 2001.0,381.1 2002.0,379.9 2003.0,379.6 2004.0,380.1 2005.0,379.8 2006.0,379.2" fill="none" stroke="#5a5aa0" stroke-width="2.4" stroke-linejoin="round"/>
<polyline points="1436.0,172.3 1437.0,177.7 1438.0,182.8 1439.0,188.3 1440.0,192.5 1441.0,198.6 1442.0,204.5 1443.0,211.1 1444.0,217.4 1445.0,223.9 1446.0,230.5 1447.0,235.6 1448.0,239.7 1449.0,245.2 1450.0,249.2 1451.0,252.5 1452.0,256.8 1453.0,259.7 1454.0,263.8 1455.0,266.3 1456.0,268.9 1457.0,271.6 1458.0,273.8 1459.0,276.5 1460.0,278.8 1461.0,281.2 1462.0,283.7 1463.0,285.5 1464.0,290.3 1465.0,293.0 1466.0,297.4 1467.0,301.1 1468.0,303.9 1469.0,306.3 1470.0,308.7 1471.0,310.8 1472.0,312.6 1473.0,314.5 1474.0,316.1 1475.0,318.8 1476.0,320.2 1477.0,322.4 1478.0,323.6 1479.0,325.1 1480.0,326.1 1481.0,327.6 1482.0,328.8 1483.0,329.6 1484.0,329.9 1485.0,330.3 1486.0,331.2 1487.0,330.0 1488.0,329.2 1489.0,328.9 1490.0,327.6 1491.0,326.2 1492.0,324.6 1493.0,324.4 1494.0,322.0 1495.0,320.3 1496.0,318.2 1497.0,315.7 1498.0,313.7 1499.0,312.3 1500.0,310.0 1501.0,307.3 1502.0,304.4 1503.0,301.7 1504.0,299.5 1505.0,296.5 1506.0,294.9 1507.0,292.5 1508.0,290.6 1509.0,287.2 1510.0,284.1 1511.0,281.5 1512.0,278.0 1513.0,276.8 1514.0,274.8 1515.0,273.2 1516.0,271.0 1517.0,269.0 1518.0,266.8 1519.0,265.1 1520.0,263.7 1521.0,261.0 1522.0,259.7 1523.0,257.9 1524.0,257.9 1525.0,256.5 1526.0,255.0 1527.0,253.1 1528.0,252.5 1529.0,251.3 1530.0,250.5 1531.0,249.5 1532.0,249.0 1533.0,247.9 1534.0,247.8 1535.0,247.0 1536.0,246.2 1537.0,245.8 1538.0,245.2 1539.0,245.3 1540.0,244.6 1541.0,244.6 1542.0,244.4 1543.0,244.2 1544.0,245.7 1545.0,245.6 1546.0,247.1 1547.0,248.0 1548.0,248.1 1549.0,249.8 1550.0,251.8 1551.0,253.7 1552.0,255.4 1553.0,257.8 1554.0,259.0 1555.0,261.1 1556.0,262.9 1557.0,266.2 1558.0,270.2 1559.0,275.1 1560.0,279.6 1561.0,283.5 1562.0,287.5 1563.0,291.3 1564.0,295.7 1565.0,299.5 1566.0,302.9 1567.0,306.4 1568.0,310.4 1569.0,314.5 1570.0,316.2 1571.0,318.8 1572.0,320.9 1573.0,321.6 1574.0,324.6 1575.0,325.9 1576.0,328.3 1577.0,328.9 1578.0,329.8 1579.0,331.1 1580.0,332.2 1581.0,332.8 1582.0,333.9 1583.0,334.1 1584.0,335.4 1585.0,336.6 1586.0,337.9 1587.0,338.0 1588.0,338.4 1589.0,339.5 1590.0,340.0 1591.0,340.9 1592.0,341.1 1593.0,341.0 1594.0,341.7 1595.0,342.1 1596.0,342.6 1597.0,343.0 1598.0,342.9 1599.0,342.6 1600.0,343.7" fill="none" stroke="#2f5fa6" stroke-width="2" stroke-linejoin="round"/>
<polyline points="1599.0,342.6 1600.0,343.7 1601.0,343.3 1602.0,344.8 1603.0,345.1 1604.0,344.5 1605.0,346.1 1606.0,346.5 1607.0,346.3 1608.0,347.5 1609.0,347.9 1610.0,346.4 1611.0,347.9 1612.0,347.8 1613.0,348.1 1614.0,348.6 1615.0,347.9 1616.0,348.2 1617.0,348.3 1618.0,348.6 1619.0,349.2 1620.0,348.6 1621.0,349.1 1622.0,350.3 1623.0,350.2 1624.0,350.7 1625.0,349.5 1626.0,350.4 1627.0,350.8 1628.0,351.3 1629.0,351.2 1630.0,352.3 1631.0,351.9 1632.0,352.2 1633.0,352.4 1634.0,353.0 1635.0,352.5 1636.0,353.7 1637.0,353.5 1638.0,353.5 1639.0,353.6 1640.0,354.1 1641.0,354.6 1642.0,354.8 1643.0,354.6 1644.0,355.1 1645.0,354.8 1646.0,355.8 1647.0,355.1 1648.0,353.9 1649.0,356.5 1650.0,355.8 1651.0,355.2 1652.0,356.0 1653.0,355.8 1654.0,358.1 1655.0,357.1 1656.0,355.9 1657.0,357.6 1658.0,357.1 1659.0,359.0 1660.0,357.0 1661.0,356.4 1662.0,358.3 1663.0,358.2 1664.0,358.3 1665.0,357.2 1666.0,359.3 1667.0,360.5 1668.0,358.0 1669.0,360.5 1670.0,359.4 1671.0,361.8 1672.0,360.5 1673.0,360.3 1674.0,361.4 1675.0,361.2 1676.0,360.5 1677.0,361.7 1678.0,361.0 1679.0,360.2 1680.0,363.4 1681.0,361.7 1682.0,361.7 1683.0,362.7 1684.0,361.4 1685.0,361.7 1686.0,362.6 1687.0,362.8 1688.0,363.5 1689.0,364.5 1690.0,363.4 1691.0,364.4 1692.0,364.7 1693.0,363.5 1694.0,364.8 1695.0,364.0 1696.0,365.8 1697.0,365.4 1698.0,365.2 1699.0,364.2 1700.0,365.6 1701.0,365.0 1702.0,366.4 1703.0,365.8 1704.0,365.3 1705.0,366.9 1706.0,366.9 1707.0,365.9 1708.0,367.5 1709.0,366.4 1710.0,366.5 1711.0,367.0 1712.0,366.4 1713.0,366.8 1714.0,367.1 1715.0,368.8 1716.0,368.9 1717.0,367.4 1718.0,369.2 1719.0,367.8 1720.0,368.3 1721.0,368.9 1722.0,368.5 1723.0,370.6 1724.0,368.7 1725.0,367.5 1726.0,369.9 1727.0,368.4 1728.0,368.6 1729.0,366.2 1730.0,370.1 1731.0,370.0 1732.0,370.1 1733.0,370.4 1734.0,371.2 1735.0,369.6 1736.0,370.7 1737.0,369.2 1738.0,369.6 1739.0,371.1 1740.0,370.6 1741.0,369.0 1742.0,370.7 1743.0,370.3 1744.0,369.8 1745.0,371.1 1746.0,370.4 1747.0,369.3 1748.0,369.9 1749.0,372.8 1750.0,369.6 1751.0,371.5 1752.0,372.0 1753.0,372.1 1754.0,370.3 1755.0,371.3 1756.0,371.8 1757.0,372.6 1758.0,371.2 1759.0,370.7 1760.0,373.1 1761.0,373.3 1762.0,372.6 1763.0,371.6 1764.0,372.8 1765.0,372.5 1766.0,373.4 1767.0,371.3 1768.0,372.8 1769.0,372.6 1770.0,371.6 1771.0,373.1 1772.0,373.0 1773.0,372.6 1774.0,373.5 1775.0,371.6 1776.0,373.2 1777.0,373.8 1778.0,373.7 1779.0,374.6 1780.0,372.2 1781.0,371.9 1782.0,373.9 1783.0,374.2 1784.0,376.1 1785.0,374.5 1786.0,372.9 1787.0,374.8 1788.0,373.0 1789.0,372.3 1790.0,377.0 1791.0,374.5 1792.0,375.0 1793.0,374.8 1794.0,376.3 1795.0,374.6 1796.0,375.7 1797.0,373.2 1798.0,372.8 1799.0,376.1 1800.0,376.2 1801.0,375.1 1802.0,374.8 1803.0,374.8 1804.0,373.8 1805.0,376.5 1806.0,375.5 1807.0,375.4 1808.0,375.2 1809.0,376.1 1810.0,375.5 1811.0,375.8 1812.0,373.5 1813.0,375.6 1814.0,377.6 1815.0,374.4 1816.0,374.9 1817.0,376.2 1818.0,376.3 1819.0,375.9 1820.0,373.2 1821.0,375.8 1822.0,373.8 1823.0,374.3 1824.0,375.9 1825.0,375.0 1826.0,376.3 1827.0,379.1 1828.0,376.3 1829.0,376.3 1830.0,374.4 1831.0,374.7 1832.0,374.2 1833.0,374.9 1834.0,374.2 1835.0,374.8 1836.0,375.3 1837.0,374.4 1838.0,373.9 1839.0,374.0 1840.0,376.2 1841.0,375.8 1842.0,377.0 1843.0,377.0 1844.0,375.4 1845.0,376.6 1846.0,374.1 1847.0,378.6 1848.0,377.3 1849.0,375.6 1850.0,374.5 1851.0,376.4 1852.0,373.7 1853.0,375.0 1854.0,376.9 1855.0,376.1 1856.0,375.4 1857.0,377.2 1858.0,374.8 1859.0,376.4 1860.0,375.5 1861.0,375.1 1862.0,376.7 1863.0,375.0 1864.0,378.5 1865.0,375.5 1866.0,378.6 1867.0,374.9 1868.0,377.0 1869.0,374.9 1870.0,374.7 1871.0,376.5 1872.0,377.2 1873.0,374.8 1874.0,377.8 1875.0,375.5 1876.0,376.6 1877.0,376.9 1878.0,377.2 1879.0,374.3 1880.0,378.5 1881.0,377.2 1882.0,376.1 1883.0,375.4 1884.0,374.6 1885.0,375.0 1886.0,377.3 1887.0,376.3 1888.0,375.3 1889.0,376.1 1890.0,378.6 1891.0,376.4 1892.0,376.1 1893.0,378.4 1894.0,377.4 1895.0,376.9 1896.0,376.2 1897.0,375.1 1898.0,375.5 1899.0,376.4 1900.0,376.7 1901.0,377.5 1902.0,377.7 1903.0,377.3 1904.0,377.4 1905.0,375.9 1906.0,374.6 1907.0,376.6 1908.0,376.1 1909.0,376.5 1910.0,376.9 1911.0,375.8 1912.0,376.0 1913.0,377.2 1914.0,377.5 1915.0,376.6 1916.0,378.0 1917.0,377.2 1918.0,376.3 1919.0,377.6 1920.0,379.8 1921.0,376.8 1922.0,379.0 1923.0,379.3 1924.0,379.4 1925.0,376.7 1926.0,380.1 1927.0,377.9 1928.0,377.5 1929.0,377.5 1930.0,378.5 1931.0,377.9 1932.0,377.7 1933.0,379.4 1934.0,377.1 1935.0,376.7 1936.0,378.9 1937.0,378.8 1938.0,379.3 1939.0,376.8 1940.0,379.4 1941.0,378.7 1942.0,380.3 1943.0,376.7 1944.0,378.5 1945.0,377.9 1946.0,376.3 1947.0,377.4 1948.0,379.7 1949.0,377.8 1950.0,377.5 1951.0,379.4 1952.0,379.6 1953.0,379.6 1954.0,377.5 1955.0,378.4 1956.0,379.8 1957.0,377.8 1958.0,377.7 1959.0,379.6 1960.0,380.5 1961.0,377.3 1962.0,375.6 1963.0,377.0 1964.0,377.6 1965.0,378.6 1966.0,379.6 1967.0,378.7 1968.0,378.0 1969.0,379.1 1970.0,377.8 1971.0,378.9 1972.0,378.2 1973.0,382.2 1974.0,380.0 1975.0,378.1 1976.0,377.9 1977.0,378.6 1978.0,377.2 1979.0,378.3 1980.0,378.3 1981.0,380.3 1982.0,378.8 1983.0,378.4 1984.0,377.7 1985.0,378.0 1986.0,379.3 1987.0,379.2 1988.0,380.8 1989.0,378.7 1990.0,380.8 1991.0,379.9 1992.0,379.6 1993.0,377.2 1994.0,378.1 1995.0,380.6 1996.0,381.4 1997.0,380.0 1998.0,380.7 1999.0,379.3 2000.0,379.4 2001.0,379.1 2002.0,381.0 2003.0,380.3 2004.0,379.7 2005.0,379.6 2006.0,380.7" fill="none" stroke="#2f5fa6" stroke-width="2.4" stroke-linejoin="round"/>
<polyline points="1436.0,66.0 1437.0,76.6 1438.0,87.5 1439.0,96.2 1440.0,104.7 1441.0,113.1 1442.0,119.9 1443.0,125.8 1444.0,131.9 1445.0,136.9 1446.0,142.6 1447.0,147.3 1448.0,153.8 1449.0,157.6 1450.0,163.5 1451.0,167.7 1452.0,172.3 1453.0,177.2 1454.0,181.7 1455.0,185.9 1456.0,190.3 1457.0,193.6 1458.0,197.8 1459.0,201.2 1460.0,205.7 1461.0,209.5 1462.0,213.4 1463.0,217.7 1464.0,222.0 1465.0,226.5 1466.0,231.1 1467.0,235.2 1468.0,239.4 1469.0,244.3 1470.0,247.3 1471.0,251.6 1472.0,256.1 1473.0,257.9 1474.0,262.1 1475.0,266.0 1476.0,268.4 1477.0,273.5 1478.0,274.6 1479.0,279.2 1480.0,281.8 1481.0,283.6 1482.0,284.9 1483.0,286.7 1484.0,287.6 1485.0,289.5 1486.0,289.4 1487.0,290.1 1488.0,290.9 1489.0,290.3 1490.0,290.8 1491.0,291.1 1492.0,290.1 1493.0,290.1 1494.0,288.6 1495.0,286.5 1496.0,285.8 1497.0,284.0 1498.0,282.4 1499.0,281.0 1500.0,278.8 1501.0,277.6 1502.0,275.1 1503.0,274.0 1504.0,271.8 1505.0,270.4 1506.0,268.0 1507.0,266.2 1508.0,264.1 1509.0,262.9 1510.0,261.3 1511.0,260.0 1512.0,257.9 1513.0,255.8 1514.0,254.0 1515.0,252.5 1516.0,250.7 1517.0,249.7 1518.0,248.0 1519.0,245.8 1520.0,244.6 1521.0,244.2 1522.0,242.5 1523.0,241.1 1524.0,240.6 1525.0,238.9 1526.0,238.0 1527.0,237.0 1528.0,235.7 1529.0,236.3 1530.0,234.9 1531.0,234.6 1532.0,234.0 1533.0,234.1 1534.0,233.3 1535.0,233.0 1536.0,231.9 1537.0,232.3 1538.0,231.5 1539.0,232.1 1540.0,232.2 1541.0,232.2 1542.0,233.3 1543.0,233.2 1544.0,233.8 1545.0,234.4 1546.0,235.1 1547.0,236.4 1548.0,237.4 1549.0,237.8 1550.0,240.7 1551.0,242.6 1552.0,244.9 1553.0,246.9 1554.0,248.4 1555.0,250.8 1556.0,254.5 1557.0,256.4 1558.0,258.5 1559.0,262.2 1560.0,265.3 1561.0,268.6 1562.0,272.6 1563.0,277.3 1564.0,282.2 1565.0,285.9 1566.0,289.6 1567.0,293.6 1568.0,297.4 1569.0,299.6 1570.0,303.2 1571.0,305.0 1572.0,306.5 1573.0,308.3 1574.0,309.7 1575.0,310.9 1576.0,311.4 1577.0,312.9 1578.0,315.0 1579.0,314.6 1580.0,315.3 1581.0,317.1 1582.0,318.2 1583.0,319.0 1584.0,319.1 1585.0,320.9 1586.0,320.8 1587.0,321.4 1588.0,322.4 1589.0,323.4 1590.0,324.5 1591.0,325.2 1592.0,325.6 1593.0,326.8 1594.0,327.0 1595.0,328.1 1596.0,327.6 1597.0,328.2 1598.0,330.1 1599.0,329.6 1600.0,330.8" fill="none" stroke="#d42c2c" stroke-width="2" stroke-linejoin="round"/>
<polyline points="1599.0,329.6 1600.0,330.8 1601.0,331.4 1602.0,331.8 1603.0,332.3 1604.0,333.8 1605.0,332.1 1606.0,334.4 1607.0,335.6 1608.0,334.7 1609.0,335.0 1610.0,335.8 1611.0,336.7 1612.0,335.3 1613.0,336.4 1614.0,336.5 1615.0,337.2 1616.0,337.3 1617.0,337.8 1618.0,337.5 1619.0,338.1 1620.0,338.0 1621.0,338.3 1622.0,339.0 1623.0,339.4 1624.0,339.1 1625.0,341.2 1626.0,340.5 1627.0,340.2 1628.0,342.1 1629.0,341.4 1630.0,342.6 1631.0,342.7 1632.0,343.3 1633.0,343.7 1634.0,343.7 1635.0,344.5 1636.0,346.2 1637.0,343.9 1638.0,345.7 1639.0,346.4 1640.0,345.8 1641.0,345.9 1642.0,348.6 1643.0,347.2 1644.0,349.2 1645.0,348.5 1646.0,348.5 1647.0,349.0 1648.0,349.4 1649.0,350.1 1650.0,349.8 1651.0,349.9 1652.0,350.2 1653.0,351.3 1654.0,351.2 1655.0,350.1 1656.0,350.6 1657.0,351.6 1658.0,351.1 1659.0,351.6 1660.0,351.4 1661.0,352.1 1662.0,352.9 1663.0,353.6 1664.0,353.1 1665.0,354.9 1666.0,353.6 1667.0,356.3 1668.0,354.9 1669.0,354.8 1670.0,354.3 1671.0,352.8 1672.0,355.1 1673.0,355.7 1674.0,357.3 1675.0,355.0 1676.0,357.8 1677.0,356.4 1678.0,357.5 1679.0,355.2 1680.0,357.6 1681.0,357.5 1682.0,358.5 1683.0,358.3 1684.0,357.6 1685.0,359.5 1686.0,359.6 1687.0,359.8 1688.0,360.3 1689.0,360.7 1690.0,360.0 1691.0,359.1 1692.0,359.3 1693.0,361.8 1694.0,361.5 1695.0,361.2 1696.0,360.9 1697.0,361.5 1698.0,361.7 1699.0,361.5 1700.0,361.4 1701.0,364.0 1702.0,362.5 1703.0,362.0 1704.0,361.5 1705.0,362.2 1706.0,363.6 1707.0,363.8 1708.0,363.1 1709.0,363.5 1710.0,363.3 1711.0,362.7 1712.0,365.0 1713.0,364.3 1714.0,366.4 1715.0,363.6 1716.0,364.3 1717.0,365.4 1718.0,364.5 1719.0,363.6 1720.0,364.1 1721.0,365.2 1722.0,365.6 1723.0,365.3 1724.0,366.5 1725.0,366.6 1726.0,366.1 1727.0,366.0 1728.0,365.9 1729.0,366.7 1730.0,367.2 1731.0,366.5 1732.0,367.0 1733.0,366.4 1734.0,365.5 1735.0,366.0 1736.0,367.8 1737.0,367.7 1738.0,368.9 1739.0,367.5 1740.0,368.4 1741.0,369.0 1742.0,368.8 1743.0,367.3 1744.0,367.9 1745.0,368.3 1746.0,367.3 1747.0,368.9 1748.0,369.5 1749.0,368.1 1750.0,370.7 1751.0,368.5 1752.0,368.7 1753.0,368.8 1754.0,368.4 1755.0,369.7 1756.0,369.4 1757.0,371.2 1758.0,370.2 1759.0,370.2 1760.0,369.5 1761.0,368.4 1762.0,369.9 1763.0,369.2 1764.0,371.2 1765.0,370.2 1766.0,372.1 1767.0,371.2 1768.0,371.4 1769.0,370.9 1770.0,370.9 1771.0,371.5 1772.0,371.9 1773.0,370.2 1774.0,371.6 1775.0,374.0 1776.0,371.1 1777.0,371.0 1778.0,370.6 1779.0,369.9 1780.0,372.9 1781.0,371.7 1782.0,372.0 1783.0,373.8 1784.0,374.7 1785.0,371.0 1786.0,373.2 1787.0,372.8 1788.0,372.6 1789.0,372.8 1790.0,372.3 1791.0,374.2 1792.0,373.2 1793.0,372.9 1794.0,374.0 1795.0,373.7 1796.0,373.3 1797.0,373.2 1798.0,374.9 1799.0,373.5 1800.0,372.9 1801.0,372.1 1802.0,372.7 1803.0,372.0 1804.0,373.4 1805.0,373.6 1806.0,370.9 1807.0,373.5 1808.0,374.3 1809.0,373.8 1810.0,372.5 1811.0,375.2 1812.0,372.9 1813.0,372.3 1814.0,372.5 1815.0,373.9 1816.0,375.1 1817.0,375.4 1818.0,374.3 1819.0,372.7 1820.0,373.4 1821.0,373.2 1822.0,374.1 1823.0,372.2 1824.0,374.5 1825.0,375.2 1826.0,374.3 1827.0,375.1 1828.0,373.5 1829.0,372.9 1830.0,373.9 1831.0,376.1 1832.0,376.0 1833.0,374.3 1834.0,376.3 1835.0,374.5 1836.0,376.8 1837.0,375.6 1838.0,374.5 1839.0,376.1 1840.0,374.2 1841.0,374.1 1842.0,373.5 1843.0,375.6 1844.0,375.3 1845.0,375.3 1846.0,374.9 1847.0,377.2 1848.0,375.0 1849.0,374.7 1850.0,377.1 1851.0,377.4 1852.0,376.1 1853.0,373.7 1854.0,375.1 1855.0,376.6 1856.0,375.9 1857.0,377.8 1858.0,374.3 1859.0,376.8 1860.0,375.3 1861.0,377.7 1862.0,376.0 1863.0,377.4 1864.0,375.4 1865.0,374.5 1866.0,374.9 1867.0,375.6 1868.0,375.1 1869.0,377.8 1870.0,378.0 1871.0,376.8 1872.0,375.3 1873.0,376.4 1874.0,375.7 1875.0,378.4 1876.0,377.0 1877.0,377.3 1878.0,376.2 1879.0,374.3 1880.0,375.9 1881.0,375.5 1882.0,377.3 1883.0,377.0 1884.0,376.0 1885.0,376.5 1886.0,378.9 1887.0,375.9 1888.0,376.0 1889.0,376.8 1890.0,376.3 1891.0,376.7 1892.0,377.9 1893.0,379.3 1894.0,375.2 1895.0,377.3 1896.0,377.4 1897.0,377.3 1898.0,377.2 1899.0,377.1 1900.0,378.7 1901.0,377.0 1902.0,377.4 1903.0,377.6 1904.0,377.8 1905.0,377.5 1906.0,378.9 1907.0,377.7 1908.0,378.0 1909.0,377.7 1910.0,376.6 1911.0,376.9 1912.0,376.7 1913.0,378.2 1914.0,377.1 1915.0,376.7 1916.0,378.3 1917.0,378.7 1918.0,376.0 1919.0,380.2 1920.0,378.2 1921.0,378.1 1922.0,379.5 1923.0,378.4 1924.0,377.6 1925.0,381.0 1926.0,377.1 1927.0,378.3 1928.0,379.5 1929.0,377.2 1930.0,378.4 1931.0,379.0 1932.0,381.4 1933.0,377.5 1934.0,378.6 1935.0,379.4 1936.0,378.8 1937.0,377.3 1938.0,379.2 1939.0,378.9 1940.0,379.3 1941.0,380.2 1942.0,380.1 1943.0,379.4 1944.0,379.3 1945.0,377.6 1946.0,378.8 1947.0,379.3 1948.0,378.6 1949.0,379.2 1950.0,378.1 1951.0,381.0 1952.0,381.8 1953.0,378.7 1954.0,379.7 1955.0,379.0 1956.0,380.8 1957.0,379.8 1958.0,379.4 1959.0,379.1 1960.0,379.5 1961.0,378.2 1962.0,380.3 1963.0,378.6 1964.0,380.2 1965.0,379.7 1966.0,380.9 1967.0,379.6 1968.0,380.8 1969.0,378.5 1970.0,380.4 1971.0,379.4 1972.0,380.0 1973.0,379.8 1974.0,380.9 1975.0,377.4 1976.0,380.2 1977.0,378.1 1978.0,381.3 1979.0,377.5 1980.0,378.7 1981.0,377.9 1982.0,381.9 1983.0,378.4 1984.0,380.2 1985.0,379.4 1986.0,377.9 1987.0,379.7 1988.0,380.9 1989.0,379.9 1990.0,381.3 1991.0,379.7 1992.0,380.2 1993.0,379.8 1994.0,380.7 1995.0,382.5 1996.0,380.7 1997.0,380.5 1998.0,379.6 1999.0,379.5 2000.0,382.1 2001.0,379.1 2002.0,379.3 2003.0,380.3 2004.0,379.9 2005.0,382.8 2006.0,377.7" fill="none" stroke="#d42c2c" stroke-width="2.4" stroke-linejoin="round"/>
<line x1="1730.8" y1="38.8" x2="1782.7" y2="38.8" stroke="#2f5fa6" stroke-width="2.2"/>
<line x1="1730.8" y1="74.0" x2="1782.7" y2="74.0" stroke="#d42c2c" stroke-width="2.2"/>
<line x1="1730.8" y1="109.2" x2="1782.7" y2="109.2" stroke="#a58f86" stroke-width="2.2"/>
<line x1="1730.8" y1="144.4" x2="1782.7" y2="144.4" stroke="#36b486" stroke-width="2.2"/>
<line x1="1730.8" y1="179.6" x2="1782.7" y2="179.6" stroke="#5a5aa0" stroke-width="2.2"/>
<line x1="1730.8" y1="214.8" x2="1782.7" y2="214.8" stroke="#f2c21c" stroke-width="2.2"/>
<text x="65.98" y="33.03" font-size="34.89" fill="#111111" stroke="#111111" stroke-width="0.7" text-anchor="middle" textLength="43.66" lengthAdjust="spacingAndGlyphs">(a)</text>
<text x="80.03" y="78.84" font-size="27.64" fill="#111111" stroke="#111111" stroke-width="0.7" text-anchor="middle" textLength="66.75" lengthAdjust="spacingAndGlyphs">100%</text>
<text x="86.52" y="180.27" font-size="26.17" fill="#111111" stroke="#111111" stroke-width="0.7" text-anchor="middle" textLength="52.31" lengthAdjust="spacingAndGlyphs">80%</text>
<text x="86.30" y="283.39" font-size="28.21" fill="#111111" stroke="#111111" stroke-width="0.7" text-anchor="middle" textLength="52.83" lengthAdjust="spacingAndGlyphs">60%</text>
<text x="86.70" y="385.67" font-size="28.11" fill="#111111" stroke="#111111" stroke-width="0.7" text-anchor="middle" textLength="52.03" lengthAdjust="spacingAndGlyphs">40%</text>
<text x="86.40" y="488.62" font-size="30.30" fill="#111111" stroke="#111111" stroke-width="0.7" text-anchor="middle" textLength="54.03" lengthAdjust="spacingAndGlyphs">20%</text>
<text x="122.89" y="511.69" font-size="28.12" fill="#111111" stroke="#111111" stroke-width="0.7" text-anchor="middle" textLength="59.79" lengthAdjust="spacingAndGlyphs">0.0%</text>
<text x="221.25" y="511.42" font-size="28.94" fill="#111111" stroke="#111111" stroke-width="0.7" text-anchor="middle" textLength="60.30" lengthAdjust="spacingAndGlyphs">0.2%</text>
<text x="319.91" y="511.42" font-size="28.94" fill="#111111" stroke="#111111" stroke-width="0.7" text-anchor="middle" textLength="59.93" lengthAdjust="spacingAndGlyphs">0.4%</text>
<text x="418.21" y="511.42" font-size="28.96" fill="#111111" stroke="#111111" stroke-width="0.7" text-anchor="middle" textLength="60.24" lengthAdjust="spacingAndGlyphs">0.6%</text>
<text x="516.72" y="511.40" font-size="29.01" fill="#111111" stroke="#111111" stroke-width="0.7" text-anchor="middle" textLength="59.98" lengthAdjust="spacingAndGlyphs">0.8%</text>
<text x="614.49" y="511.42" font-size="28.94" fill="#111111" stroke="#111111" stroke-width="0.7" text-anchor="middle" textLength="61.30" lengthAdjust="spacingAndGlyphs">1.0%</text>
<text x="392.34" y="558.05" font-size="28.56" fill="#111111" stroke="#111111" stroke-width="0.7" text-anchor="middle" textLength="163.71" lengthAdjust="spacingAndGlyphs">Concentration</text>
<text transform="translate(34.97,248.15) rotate(-90)" x="0" y="0" font-size="32.64" fill="#111111" stroke="#111111" stroke-width="0.7" text-anchor="middle" textLength="211.89" lengthAdjust="spacingAndGlyphs">Utilization rate</text>
<text x="394.12" y="150.96" font-size="32.22" fill="#5a8fc4" stroke="#5a8fc4" stroke-width="0.42" text-anchor="middle" textLength="314.52" lengthAdjust="spacingAndGlyphs">Utilization rate of DCH</text>
<text x="435.50" y="390.48" font-size="28.23" fill="#e6b42c" stroke="#e6b42c" stroke-width="0.42" text-anchor="middle" textLength="400.70" lengthAdjust="spacingAndGlyphs">Utilization rate of traditional</text>
<text x="349.76" y="430.20" font-size="30.22" fill="#e6b42c" stroke="#e6b42c" stroke-width="0.42" text-anchor="middle" textLength="230.42" lengthAdjust="spacingAndGlyphs">finishing process</text>
<text x="699.75" y="30.93" font-size="34.77" fill="#111111" stroke="#111111" stroke-width="0.7" text-anchor="middle" textLength="44.19" lengthAdjust="spacingAndGlyphs">(b)</text>
<text x="737.34" y="83.26" font-size="28.20" fill="#111111" stroke="#111111" stroke-width="0.7" text-anchor="middle" textLength="41.18" lengthAdjust="spacingAndGlyphs">110</text>
<text x="737.48" y="184.81" font-size="28.30" fill="#111111" stroke="#111111" stroke-width="0.7" text-anchor="middle" textLength="41.24" lengthAdjust="spacingAndGlyphs">100</text>
<text x="744.62" y="287.32" font-size="28.11" fill="#111111" stroke="#111111" stroke-width="0.7" text-anchor="middle" textLength="27.27" lengthAdjust="spacingAndGlyphs">90</text>
<text x="744.78" y="389.85" font-size="25.97" fill="#111111" stroke="#111111" stroke-width="0.7" text-anchor="middle" textLength="28.14" lengthAdjust="spacingAndGlyphs">80</text>
<text x="744.23" y="492.21" font-size="28.12" fill="#111111" stroke="#111111" stroke-width="0.7" text-anchor="middle" textLength="28.11" lengthAdjust="spacingAndGlyphs">70</text>
<text x="769.77" y="515.36" font-size="29.22" fill="#111111" stroke="#111111" stroke-width="0.7" text-anchor="middle" textLength="63.27" lengthAdjust="spacingAndGlyphs">0.0%</text>
<text x="872.52" y="515.35" font-size="29.26" fill="#111111" stroke="#111111" stroke-width="0.7" text-anchor="middle" textLength="63.19" lengthAdjust="spacingAndGlyphs">0.2%</text>
<text x="975.38" y="515.36" font-size="29.22" fill="#111111" stroke="#111111" stroke-width="0.7" text-anchor="middle" textLength="62.78" lengthAdjust="spacingAndGlyphs">0.4%</text>
<text x="1078.05" y="515.36" font-size="29.23" fill="#111111" stroke="#111111" stroke-width="0.7" text-anchor="middle" textLength="62.77" lengthAdjust="spacingAndGlyphs">0.6%</text>
<text x="1180.87" y="515.36" font-size="29.23" fill="#111111" stroke="#111111" stroke-width="0.7" text-anchor="middle" textLength="63.08" lengthAdjust="spacingAndGlyphs">0.8%</text>
<text x="1282.83" y="515.35" font-size="29.24" fill="#111111" stroke="#111111" stroke-width="0.7" text-anchor="middle" textLength="64.27" lengthAdjust="spacingAndGlyphs">1.0%</text>
<text x="1051.01" y="562.98" font-size="28.10" fill="#111111" stroke="#111111" stroke-width="0.7" text-anchor="middle" textLength="170.83" lengthAdjust="spacingAndGlyphs">Concentration</text>
<text transform="translate(701.94,254.23) rotate(-90)" x="0" y="0" font-size="29.26" fill="#111111" stroke="#111111" stroke-width="0.7" text-anchor="middle" textLength="126.00" lengthAdjust="spacingAndGlyphs">Whiteness</text>
<text x="827.58" y="196.44" font-size="30.41" fill="#111111" stroke="#111111" stroke-width="0.7" text-anchor="middle" textLength="92.80" lengthAdjust="spacingAndGlyphs">FWC-1</text>
<text x="926.87" y="59.56" font-size="30.42" fill="#111111" stroke="#111111" stroke-width="0.7" text-anchor="middle" textLength="93.48" lengthAdjust="spacingAndGlyphs">FWC-2</text>
<text x="1035.15" y="75.45" font-size="30.98" fill="#111111" stroke="#111111" stroke-width="0.7" text-anchor="middle" textLength="91.41" lengthAdjust="spacingAndGlyphs">FWC-3</text>
<text x="1175.21" y="152.73" font-size="32.24" fill="#111111" stroke="#111111" stroke-width="0.7" text-anchor="middle" textLength="93.43" lengthAdjust="spacingAndGlyphs">FWC-4</text>
<text x="1279.39" y="108.76" font-size="30.27" fill="#111111" stroke="#111111" stroke-width="0.7" text-anchor="middle" textLength="93.43" lengthAdjust="spacingAndGlyphs">FWC-5</text>
<text x="1144.14" y="235.33" font-size="26.47" fill="#5a8fc4" stroke="#5a8fc4" stroke-width="0.42" text-anchor="middle" textLength="370.00" lengthAdjust="spacingAndGlyphs">Fluorescent whitening cotton</text>
<text x="1081.45" y="283.67" font-size="30.09" fill="#e6b62a" stroke="#e6b62a" stroke-width="0.42" text-anchor="middle" textLength="248.42" lengthAdjust="spacingAndGlyphs">Raw cotton fabric</text>
<text x="1361.69" y="33.09" font-size="35.09" fill="#111111" stroke="#111111" stroke-width="0.7" text-anchor="middle" textLength="40.48" lengthAdjust="spacingAndGlyphs">(c)</text>
<text x="1406.95" y="30.31" font-size="28.54" fill="#111111" stroke="#111111" stroke-width="0.7" text-anchor="middle" textLength="34.29" lengthAdjust="spacingAndGlyphs">0.2</text>
<text x="1406.84" y="214.76" font-size="28.73" fill="#111111" stroke="#111111" stroke-width="0.7" text-anchor="middle" textLength="34.01" lengthAdjust="spacingAndGlyphs">0.1</text>
<text x="1407.54" y="397.62" font-size="28.80" fill="#111111" stroke="#111111" stroke-width="0.7" text-anchor="middle" textLength="35.10" lengthAdjust="spacingAndGlyphs">0.0</text>
<text x="1434.96" y="513.55" font-size="28.47" fill="#111111" stroke="#111111" stroke-width="0.7" text-anchor="middle" textLength="41.93" lengthAdjust="spacingAndGlyphs">300</text>
<text x="1549.61" y="513.05" font-size="28.17" fill="#111111" stroke="#111111" stroke-width="0.7" text-anchor="middle" textLength="41.45" lengthAdjust="spacingAndGlyphs">400</text>
<text x="1663.90" y="513.05" font-size="28.17" fill="#111111" stroke="#111111" stroke-width="0.7" text-anchor="middle" textLength="42.32" lengthAdjust="spacingAndGlyphs">500</text>
<text x="1778.43" y="513.14" font-size="27.94" fill="#111111" stroke="#111111" stroke-width="0.7" text-anchor="middle" textLength="41.74" lengthAdjust="spacingAndGlyphs">600</text>
<text x="1892.77" y="513.05" font-size="28.17" fill="#111111" stroke="#111111" stroke-width="0.7" text-anchor="middle" textLength="42.30" lengthAdjust="spacingAndGlyphs">700</text>
<text x="2007.55" y="513.79" font-size="27.83" fill="#111111" stroke="#111111" stroke-width="0.7" text-anchor="middle" textLength="41.58" lengthAdjust="spacingAndGlyphs">800</text>
<text x="1722.51" y="559.21" font-size="26.66" fill="#111111" stroke="#111111" stroke-width="0.7" text-anchor="middle" textLength="208.09" lengthAdjust="spacingAndGlyphs">Wavelength (nm)</text>
<text transform="translate(1380.38,250.48) rotate(-90)" x="0" y="0" font-size="26.75" fill="#111111" stroke="#111111" stroke-width="0.7" text-anchor="middle" textLength="141.95" lengthAdjust="spacingAndGlyphs">Absorbance</text>
<text x="1833.48" y="48.52" font-size="28.70" fill="#111111" stroke="#111111" stroke-width="0.7" text-anchor="middle" textLength="88.14" lengthAdjust="spacingAndGlyphs">FWC-1</text>
<text x="1833.84" y="83.56" font-size="28.70" fill="#111111" stroke="#111111" stroke-width="0.7" text-anchor="middle" textLength="88.92" lengthAdjust="spacingAndGlyphs">FWC-2</text>
<text x="1833.12" y="118.80" font-size="28.78" fill="#111111" stroke="#111111" stroke-width="0.7" text-anchor="middle" textLength="87.39" lengthAdjust="spacingAndGlyphs">FWC-3</text>
<text x="1832.98" y="153.54" font-size="28.83" fill="#111111" stroke="#111111" stroke-width="0.7" text-anchor="middle" textLength="87.29" lengthAdjust="spacingAndGlyphs">FWC-4</text>
<text x="1833.32" y="189.18" font-size="28.83" fill="#111111" stroke="#111111" stroke-width="0.7" text-anchor="middle" textLength="87.96" lengthAdjust="spacingAndGlyphs">FWC-5</text>
<text x="1898.26" y="225.73" font-size="26.62" fill="#111111" stroke="#111111" stroke-width="0.7" text-anchor="middle" textLength="215.78" lengthAdjust="spacingAndGlyphs">Raw cotton fabric</text>
</svg></body></html>
